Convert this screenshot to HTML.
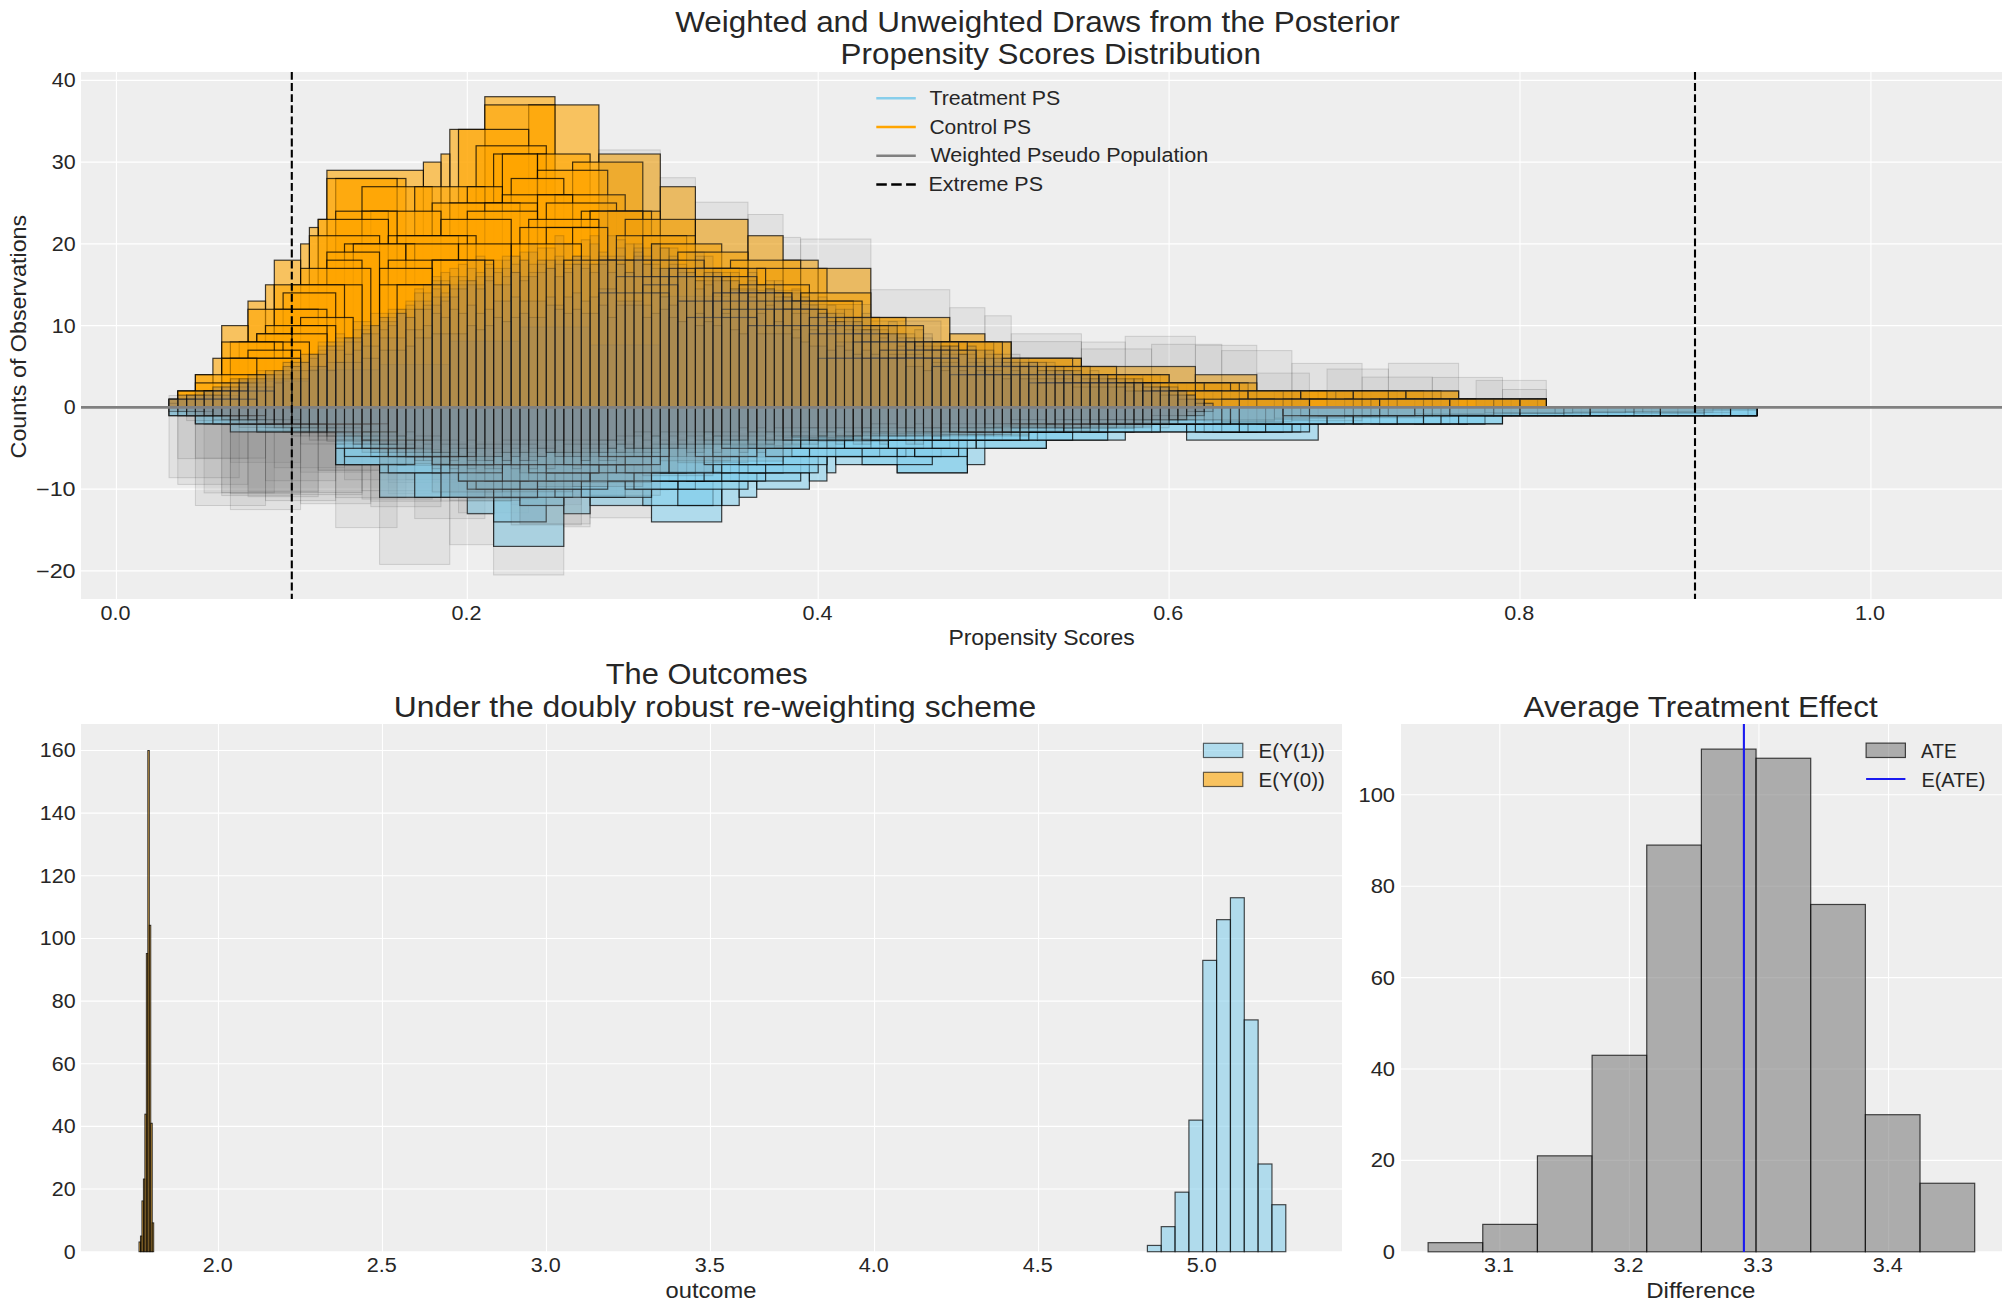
<!DOCTYPE html>
<html><head><meta charset="utf-8"><style>html,body{margin:0;padding:0;background:#fff;width:2011px;height:1311px;overflow:hidden}</style></head>
<body>
<svg width="2011" height="1311" viewBox="0 0 2011 1311" style="display:block;font-family:'Liberation Sans', sans-serif;fill:#262626">
<rect width="2011" height="1311" fill="#fff"/>
<rect x="81" y="72" width="1921" height="527" fill="#eeeeee"/>
<line x1="116.40" y1="72" x2="116.40" y2="599" stroke="#fff" stroke-width="1.1"/>
<line x1="467.30" y1="72" x2="467.30" y2="599" stroke="#fff" stroke-width="1.1"/>
<line x1="818.20" y1="72" x2="818.20" y2="599" stroke="#fff" stroke-width="1.1"/>
<line x1="1169.10" y1="72" x2="1169.10" y2="599" stroke="#fff" stroke-width="1.1"/>
<line x1="1520.00" y1="72" x2="1520.00" y2="599" stroke="#fff" stroke-width="1.1"/>
<line x1="1870.90" y1="72" x2="1870.90" y2="599" stroke="#fff" stroke-width="1.1"/>
<line x1="81" y1="570.90" x2="2002" y2="570.90" stroke="#fff" stroke-width="1.1"/>
<line x1="81" y1="489.15" x2="2002" y2="489.15" stroke="#fff" stroke-width="1.1"/>
<line x1="81" y1="407.40" x2="2002" y2="407.40" stroke="#fff" stroke-width="1.1"/>
<line x1="81" y1="325.65" x2="2002" y2="325.65" stroke="#fff" stroke-width="1.1"/>
<line x1="81" y1="243.90" x2="2002" y2="243.90" stroke="#fff" stroke-width="1.1"/>
<line x1="81" y1="162.15" x2="2002" y2="162.15" stroke="#fff" stroke-width="1.1"/>
<line x1="81" y1="80.40" x2="2002" y2="80.40" stroke="#fff" stroke-width="1.1"/>
<g fill="#808080" fill-opacity="0.11" stroke="#000" stroke-opacity="0.13" stroke-width="1.0"><rect x="230.4" y="407.4" width="70.2" height="86.4"/><rect x="300.6" y="407.4" width="70.2" height="96.3"/><rect x="370.8" y="407.4" width="70.2" height="99.3"/><rect x="441.0" y="407.4" width="70.2" height="87.0"/><rect x="511.2" y="407.4" width="70.2" height="97.2"/><rect x="581.3" y="407.4" width="70.2" height="59.4"/><rect x="651.5" y="407.4" width="70.2" height="61.2"/><rect x="721.7" y="407.4" width="70.2" height="35.5"/><rect x="791.9" y="407.4" width="70.2" height="25.3"/><rect x="862.1" y="407.4" width="70.2" height="16.0"/><rect x="932.2" y="407.4" width="70.2" height="13.7"/><rect x="1002.4" y="407.4" width="70.2" height="7.5"/><rect x="1072.6" y="407.4" width="70.2" height="4.4"/><rect x="221.7" y="407.4" width="70.2" height="88.2"/><rect x="291.9" y="407.4" width="70.2" height="87.2"/><rect x="362.0" y="407.4" width="70.2" height="91.7"/><rect x="432.2" y="407.4" width="70.2" height="74.5"/><rect x="502.4" y="407.4" width="70.2" height="63.2"/><rect x="572.6" y="407.4" width="70.2" height="73.0"/><rect x="642.8" y="407.4" width="70.2" height="43.3"/><rect x="712.9" y="407.4" width="70.2" height="31.8"/><rect x="783.1" y="407.4" width="70.2" height="21.4"/><rect x="853.3" y="407.4" width="70.2" height="15.0"/><rect x="923.5" y="407.4" width="70.2" height="14.4"/><rect x="993.6" y="407.4" width="70.2" height="9.5"/><rect x="1063.8" y="407.4" width="70.2" height="5.7"/><rect x="230.4" y="407.4" width="70.2" height="55.0"/><rect x="300.6" y="407.4" width="70.2" height="64.8"/><rect x="370.8" y="407.4" width="70.2" height="93.8"/><rect x="441.0" y="407.4" width="70.2" height="85.0"/><rect x="511.2" y="407.4" width="70.2" height="84.7"/><rect x="581.3" y="407.4" width="70.2" height="85.5"/><rect x="651.5" y="407.4" width="70.2" height="42.1"/><rect x="721.7" y="407.4" width="70.2" height="31.5"/><rect x="791.9" y="407.4" width="70.2" height="27.0"/><rect x="862.1" y="407.4" width="70.2" height="19.1"/><rect x="932.2" y="407.4" width="70.2" height="10.8"/><rect x="1002.4" y="407.4" width="70.2" height="9.5"/><rect x="1072.6" y="407.4" width="70.2" height="3.5"/><rect x="177.8" y="407.4" width="70.2" height="77.0"/><rect x="248.0" y="407.4" width="70.2" height="89.3"/><rect x="318.2" y="407.4" width="70.2" height="62.6"/><rect x="388.3" y="407.4" width="70.2" height="75.1"/><rect x="458.5" y="407.4" width="70.2" height="105.4"/><rect x="528.7" y="407.4" width="70.2" height="78.9"/><rect x="598.9" y="407.4" width="70.2" height="83.1"/><rect x="669.1" y="407.4" width="70.2" height="45.8"/><rect x="739.2" y="407.4" width="70.2" height="25.7"/><rect x="809.4" y="407.4" width="70.2" height="24.2"/><rect x="879.6" y="407.4" width="70.2" height="20.3"/><rect x="949.8" y="407.4" width="70.2" height="11.4"/><rect x="1020.0" y="407.4" width="70.2" height="6.3"/><rect x="1090.1" y="407.4" width="70.2" height="2.8"/><rect x="177.8" y="407.4" width="70.2" height="51.2"/><rect x="248.0" y="407.4" width="70.2" height="84.0"/><rect x="318.2" y="407.4" width="70.2" height="63.0"/><rect x="388.3" y="407.4" width="70.2" height="86.3"/><rect x="458.5" y="407.4" width="70.2" height="86.9"/><rect x="528.7" y="407.4" width="70.2" height="87.4"/><rect x="598.9" y="407.4" width="70.2" height="56.6"/><rect x="669.1" y="407.4" width="70.2" height="48.4"/><rect x="739.2" y="407.4" width="70.2" height="40.6"/><rect x="809.4" y="407.4" width="70.2" height="25.7"/><rect x="879.6" y="407.4" width="70.2" height="17.1"/><rect x="949.8" y="407.4" width="70.2" height="12.1"/><rect x="1020.0" y="407.4" width="70.2" height="7.6"/><rect x="1090.1" y="407.4" width="70.2" height="3.8"/><rect x="204.1" y="407.4" width="70.2" height="85.5"/><rect x="274.3" y="407.4" width="70.2" height="60.3"/><rect x="344.5" y="407.4" width="70.2" height="72.4"/><rect x="414.7" y="407.4" width="70.2" height="111.2"/><rect x="484.8" y="407.4" width="70.2" height="89.4"/><rect x="555.0" y="407.4" width="70.2" height="78.1"/><rect x="625.2" y="407.4" width="70.2" height="46.6"/><rect x="695.4" y="407.4" width="70.2" height="33.6"/><rect x="765.6" y="407.4" width="70.2" height="27.0"/><rect x="835.7" y="407.4" width="70.2" height="15.7"/><rect x="905.9" y="407.4" width="70.2" height="16.8"/><rect x="976.1" y="407.4" width="70.2" height="12.9"/><rect x="1046.3" y="407.4" width="70.2" height="5.8"/><rect x="1116.5" y="407.4" width="70.2" height="1.0"/><rect x="195.4" y="407.4" width="70.2" height="50.7"/><rect x="265.5" y="407.4" width="70.2" height="73.3"/><rect x="335.7" y="407.4" width="70.2" height="90.2"/><rect x="405.9" y="407.4" width="70.2" height="72.2"/><rect x="476.1" y="407.4" width="70.2" height="89.6"/><rect x="546.3" y="407.4" width="70.2" height="89.6"/><rect x="616.4" y="407.4" width="70.2" height="51.5"/><rect x="686.6" y="407.4" width="70.2" height="40.9"/><rect x="756.8" y="407.4" width="70.2" height="31.3"/><rect x="827.0" y="407.4" width="70.2" height="19.4"/><rect x="897.2" y="407.4" width="70.2" height="14.3"/><rect x="967.3" y="407.4" width="70.2" height="12.3"/><rect x="1037.5" y="407.4" width="70.2" height="7.5"/><rect x="1107.7" y="407.4" width="70.2" height="1.5"/><rect x="221.7" y="407.4" width="70.2" height="85.2"/><rect x="291.9" y="407.4" width="70.2" height="85.1"/><rect x="362.0" y="407.4" width="70.2" height="83.3"/><rect x="432.2" y="407.4" width="70.2" height="72.1"/><rect x="502.4" y="407.4" width="70.2" height="64.2"/><rect x="572.6" y="407.4" width="70.2" height="88.6"/><rect x="642.8" y="407.4" width="70.2" height="48.3"/><rect x="712.9" y="407.4" width="70.2" height="41.5"/><rect x="783.1" y="407.4" width="70.2" height="21.5"/><rect x="853.3" y="407.4" width="70.2" height="22.8"/><rect x="923.5" y="407.4" width="70.2" height="15.4"/><rect x="993.6" y="407.4" width="70.2" height="8.8"/><rect x="1063.8" y="407.4" width="70.2" height="4.1"/></g>
<g fill="#ffa500" fill-opacity="0.6" stroke="#000" stroke-opacity="0.75" stroke-width="1.2"><rect x="484.8" y="96.7" width="70.2" height="310.7"/><rect x="528.7" y="104.9" width="70.2" height="302.5"/><rect x="484.8" y="104.9" width="70.2" height="302.5"/><rect x="449.8" y="129.4" width="35.1" height="278.0"/><rect x="458.5" y="129.4" width="70.2" height="278.0"/><rect x="476.1" y="145.8" width="70.2" height="261.6"/><rect x="441.0" y="154.0" width="8.8" height="253.4"/><rect x="598.9" y="154.0" width="61.4" height="253.4"/><rect x="493.6" y="154.0" width="52.6" height="253.4"/><rect x="502.4" y="154.0" width="35.1" height="253.4"/><rect x="537.5" y="154.0" width="52.6" height="253.4"/><rect x="423.4" y="162.1" width="17.5" height="245.3"/><rect x="572.6" y="162.1" width="70.2" height="245.3"/><rect x="326.9" y="170.3" width="96.5" height="237.1"/><rect x="537.5" y="170.3" width="70.2" height="237.1"/><rect x="335.7" y="178.5" width="70.2" height="228.9"/><rect x="326.9" y="178.5" width="70.2" height="228.9"/><rect x="511.2" y="178.5" width="52.6" height="228.9"/><rect x="660.3" y="186.7" width="35.1" height="220.7"/><rect x="362.0" y="186.7" width="70.2" height="220.7"/><rect x="414.7" y="186.7" width="70.2" height="220.7"/><rect x="467.3" y="186.7" width="35.1" height="220.7"/><rect x="502.4" y="194.8" width="70.2" height="212.6"/><rect x="555.0" y="194.8" width="70.2" height="212.6"/><rect x="537.5" y="194.8" width="35.1" height="212.6"/><rect x="449.8" y="203.0" width="70.2" height="204.4"/><rect x="546.3" y="203.0" width="70.2" height="204.4"/><rect x="432.2" y="203.0" width="70.2" height="204.4"/><rect x="484.8" y="203.0" width="52.6" height="204.4"/><rect x="590.1" y="211.2" width="70.2" height="196.2"/><rect x="370.8" y="211.2" width="70.2" height="196.2"/><rect x="581.3" y="211.2" width="70.2" height="196.2"/><rect x="467.3" y="211.2" width="70.2" height="196.2"/><rect x="335.7" y="211.2" width="52.6" height="196.2"/><rect x="362.0" y="211.2" width="35.1" height="196.2"/><rect x="607.7" y="211.2" width="35.1" height="196.2"/><rect x="590.1" y="211.2" width="52.6" height="196.2"/><rect x="318.2" y="219.4" width="8.8" height="188.0"/><rect x="695.4" y="219.4" width="52.6" height="188.0"/><rect x="318.2" y="219.4" width="70.2" height="188.0"/><rect x="528.7" y="219.4" width="70.2" height="188.0"/><rect x="625.2" y="219.4" width="70.2" height="188.0"/><rect x="441.0" y="219.4" width="70.2" height="188.0"/><rect x="309.4" y="227.5" width="8.8" height="179.9"/><rect x="519.9" y="227.5" width="70.2" height="179.9"/><rect x="546.3" y="227.5" width="52.6" height="179.9"/><rect x="572.6" y="227.5" width="35.1" height="179.9"/><rect x="748.0" y="235.7" width="35.1" height="171.7"/><rect x="309.4" y="235.7" width="70.2" height="171.7"/><rect x="405.9" y="235.7" width="70.2" height="171.7"/><rect x="616.4" y="235.7" width="70.2" height="171.7"/><rect x="388.3" y="235.7" width="70.2" height="171.7"/><rect x="397.1" y="235.7" width="70.2" height="171.7"/><rect x="642.8" y="235.7" width="52.6" height="171.7"/><rect x="300.6" y="243.9" width="8.8" height="163.5"/><rect x="344.5" y="243.9" width="70.2" height="163.5"/><rect x="511.2" y="243.9" width="70.2" height="163.5"/><rect x="651.5" y="243.9" width="70.2" height="163.5"/><rect x="353.3" y="243.9" width="52.6" height="163.5"/><rect x="405.9" y="243.9" width="52.6" height="163.5"/><rect x="458.5" y="243.9" width="52.6" height="163.5"/><rect x="677.8" y="252.1" width="70.2" height="155.3"/><rect x="326.9" y="252.1" width="52.6" height="155.3"/><rect x="274.3" y="260.2" width="26.3" height="147.1"/><rect x="783.1" y="260.2" width="35.1" height="147.1"/><rect x="730.5" y="260.2" width="70.2" height="147.1"/><rect x="607.7" y="260.2" width="70.2" height="147.1"/><rect x="388.3" y="260.2" width="52.6" height="147.1"/><rect x="441.0" y="260.2" width="52.6" height="147.1"/><rect x="598.9" y="260.2" width="52.6" height="147.1"/><rect x="651.5" y="260.2" width="52.6" height="147.1"/><rect x="326.9" y="260.2" width="35.1" height="147.1"/><rect x="432.2" y="260.2" width="35.1" height="147.1"/><rect x="432.2" y="260.2" width="52.6" height="147.1"/><rect x="563.8" y="260.2" width="52.6" height="147.1"/><rect x="818.2" y="268.4" width="52.6" height="139.0"/><rect x="756.8" y="268.4" width="70.2" height="139.0"/><rect x="669.1" y="268.4" width="70.2" height="139.0"/><rect x="695.4" y="268.4" width="70.2" height="139.0"/><rect x="300.6" y="268.4" width="70.2" height="139.0"/><rect x="379.6" y="268.4" width="52.6" height="139.0"/><rect x="695.4" y="268.4" width="52.6" height="139.0"/><rect x="660.3" y="276.6" width="70.2" height="130.8"/><rect x="642.8" y="276.6" width="70.2" height="130.8"/><rect x="704.2" y="276.6" width="52.6" height="130.8"/><rect x="616.4" y="276.6" width="52.6" height="130.8"/><rect x="669.1" y="276.6" width="52.6" height="130.8"/><rect x="265.5" y="284.8" width="8.8" height="122.6"/><rect x="379.6" y="284.8" width="70.2" height="122.6"/><rect x="291.9" y="284.8" width="70.2" height="122.6"/><rect x="739.2" y="284.8" width="70.2" height="122.6"/><rect x="274.3" y="284.8" width="70.2" height="122.6"/><rect x="397.1" y="284.8" width="35.1" height="122.6"/><rect x="642.8" y="284.8" width="35.1" height="122.6"/><rect x="800.7" y="292.9" width="70.2" height="114.5"/><rect x="712.9" y="292.9" width="70.2" height="114.5"/><rect x="598.9" y="292.9" width="70.2" height="114.5"/><rect x="721.7" y="292.9" width="70.2" height="114.5"/><rect x="283.1" y="292.9" width="52.6" height="114.5"/><rect x="748.0" y="292.9" width="35.1" height="114.5"/><rect x="248.0" y="301.1" width="17.5" height="106.3"/><rect x="783.1" y="301.1" width="70.2" height="106.3"/><rect x="791.9" y="301.1" width="70.2" height="106.3"/><rect x="677.8" y="301.1" width="35.1" height="106.3"/><rect x="712.9" y="301.1" width="35.1" height="106.3"/><rect x="748.0" y="301.1" width="52.6" height="106.3"/><rect x="248.0" y="309.3" width="70.2" height="98.1"/><rect x="756.8" y="309.3" width="52.6" height="98.1"/><rect x="783.1" y="309.3" width="35.1" height="98.1"/><rect x="274.3" y="309.3" width="52.6" height="98.1"/><rect x="721.7" y="309.3" width="52.6" height="98.1"/><rect x="774.3" y="309.3" width="52.6" height="98.1"/><rect x="870.8" y="317.5" width="79.0" height="89.9"/><rect x="686.6" y="317.5" width="70.2" height="89.9"/><rect x="809.4" y="317.5" width="70.2" height="89.9"/><rect x="835.7" y="317.5" width="70.2" height="89.9"/><rect x="300.6" y="317.5" width="52.6" height="89.9"/><rect x="221.7" y="325.6" width="26.3" height="81.8"/><rect x="265.5" y="325.6" width="70.2" height="81.8"/><rect x="827.0" y="325.6" width="70.2" height="81.8"/><rect x="853.3" y="325.6" width="70.2" height="81.8"/><rect x="765.6" y="325.6" width="70.2" height="81.8"/><rect x="748.0" y="325.6" width="70.2" height="81.8"/><rect x="291.9" y="325.6" width="35.1" height="81.8"/><rect x="818.2" y="325.6" width="35.1" height="81.8"/><rect x="800.7" y="325.6" width="52.6" height="81.8"/><rect x="949.8" y="333.8" width="35.1" height="73.6"/><rect x="256.8" y="333.8" width="70.2" height="73.6"/><rect x="809.4" y="333.8" width="52.6" height="73.6"/><rect x="256.8" y="333.8" width="35.1" height="73.6"/><rect x="853.3" y="333.8" width="35.1" height="73.6"/><rect x="984.9" y="342.0" width="26.3" height="65.4"/><rect x="239.2" y="342.0" width="70.2" height="65.4"/><rect x="941.0" y="342.0" width="70.2" height="65.4"/><rect x="897.2" y="342.0" width="70.2" height="65.4"/><rect x="923.5" y="342.0" width="70.2" height="65.4"/><rect x="862.1" y="342.0" width="70.2" height="65.4"/><rect x="932.2" y="342.0" width="70.2" height="65.4"/><rect x="230.4" y="342.0" width="52.6" height="65.4"/><rect x="862.1" y="342.0" width="52.6" height="65.4"/><rect x="914.7" y="342.0" width="52.6" height="65.4"/><rect x="923.5" y="342.0" width="35.1" height="65.4"/><rect x="221.7" y="342.0" width="52.6" height="65.4"/><rect x="853.3" y="342.0" width="52.6" height="65.4"/><rect x="879.6" y="350.2" width="70.2" height="57.2"/><rect x="905.9" y="350.2" width="70.2" height="57.2"/><rect x="248.0" y="350.2" width="52.6" height="57.2"/><rect x="212.9" y="358.3" width="8.8" height="49.1"/><rect x="1011.2" y="358.3" width="70.2" height="49.1"/><rect x="870.8" y="358.3" width="70.2" height="49.1"/><rect x="1011.2" y="358.3" width="70.2" height="49.1"/><rect x="221.7" y="358.3" width="70.2" height="49.1"/><rect x="230.4" y="358.3" width="70.2" height="49.1"/><rect x="1002.4" y="358.3" width="70.2" height="49.1"/><rect x="818.2" y="358.3" width="70.2" height="49.1"/><rect x="888.4" y="358.3" width="70.2" height="49.1"/><rect x="221.7" y="358.3" width="35.1" height="49.1"/><rect x="888.4" y="358.3" width="35.1" height="49.1"/><rect x="905.9" y="358.3" width="52.6" height="49.1"/><rect x="827.0" y="358.3" width="52.6" height="49.1"/><rect x="879.6" y="358.3" width="52.6" height="49.1"/><rect x="1081.4" y="366.5" width="114.0" height="40.9"/><rect x="1020.0" y="366.5" width="70.2" height="40.9"/><rect x="1046.3" y="366.5" width="70.2" height="40.9"/><rect x="993.6" y="366.5" width="35.1" height="40.9"/><rect x="958.6" y="366.5" width="52.6" height="40.9"/><rect x="932.2" y="366.5" width="52.6" height="40.9"/><rect x="984.9" y="366.5" width="52.6" height="40.9"/><rect x="195.4" y="374.7" width="17.5" height="32.7"/><rect x="1195.4" y="374.7" width="61.4" height="32.7"/><rect x="1081.4" y="374.7" width="70.2" height="32.7"/><rect x="195.4" y="374.7" width="70.2" height="32.7"/><rect x="967.3" y="374.7" width="70.2" height="32.7"/><rect x="993.6" y="374.7" width="70.2" height="32.7"/><rect x="949.8" y="374.7" width="70.2" height="32.7"/><rect x="1090.1" y="374.7" width="70.2" height="32.7"/><rect x="976.1" y="374.7" width="70.2" height="32.7"/><rect x="1072.6" y="374.7" width="70.2" height="32.7"/><rect x="958.6" y="374.7" width="70.2" height="32.7"/><rect x="1028.7" y="374.7" width="70.2" height="32.7"/><rect x="1098.9" y="374.7" width="70.2" height="32.7"/><rect x="967.3" y="374.7" width="52.6" height="32.7"/><rect x="1020.0" y="374.7" width="52.6" height="32.7"/><rect x="958.6" y="374.7" width="35.1" height="32.7"/><rect x="1011.2" y="374.7" width="52.6" height="32.7"/><rect x="1116.5" y="374.7" width="52.6" height="32.7"/><rect x="1037.5" y="382.9" width="70.2" height="24.5"/><rect x="1107.7" y="382.9" width="70.2" height="24.5"/><rect x="1177.9" y="382.9" width="70.2" height="24.5"/><rect x="1063.8" y="382.9" width="70.2" height="24.5"/><rect x="1134.0" y="382.9" width="70.2" height="24.5"/><rect x="1160.3" y="382.9" width="70.2" height="24.5"/><rect x="1116.5" y="382.9" width="70.2" height="24.5"/><rect x="1186.6" y="382.9" width="70.2" height="24.5"/><rect x="1169.1" y="382.9" width="70.2" height="24.5"/><rect x="1072.6" y="382.9" width="52.6" height="24.5"/><rect x="1125.2" y="382.9" width="52.6" height="24.5"/><rect x="1177.9" y="382.9" width="52.6" height="24.5"/><rect x="1028.7" y="382.9" width="35.1" height="24.5"/><rect x="1063.8" y="382.9" width="35.1" height="24.5"/><rect x="1098.9" y="382.9" width="35.1" height="24.5"/><rect x="1134.0" y="382.9" width="35.1" height="24.5"/><rect x="1169.1" y="382.9" width="35.1" height="24.5"/><rect x="1063.8" y="382.9" width="52.6" height="24.5"/><rect x="195.4" y="382.9" width="52.6" height="24.5"/><rect x="1037.5" y="382.9" width="52.6" height="24.5"/><rect x="1090.1" y="382.9" width="52.6" height="24.5"/><rect x="1142.8" y="382.9" width="52.6" height="24.5"/><rect x="177.8" y="391.0" width="17.5" height="16.4"/><rect x="1256.8" y="391.0" width="201.8" height="16.4"/><rect x="1151.6" y="391.0" width="70.2" height="16.4"/><rect x="1248.1" y="391.0" width="70.2" height="16.4"/><rect x="1318.2" y="391.0" width="70.2" height="16.4"/><rect x="1274.4" y="391.0" width="70.2" height="16.4"/><rect x="177.8" y="391.0" width="70.2" height="16.4"/><rect x="1230.5" y="391.0" width="70.2" height="16.4"/><rect x="1300.7" y="391.0" width="70.2" height="16.4"/><rect x="204.1" y="391.0" width="70.2" height="16.4"/><rect x="1327.0" y="391.0" width="70.2" height="16.4"/><rect x="1142.8" y="391.0" width="70.2" height="16.4"/><rect x="1213.0" y="391.0" width="70.2" height="16.4"/><rect x="1353.3" y="391.0" width="70.2" height="16.4"/><rect x="177.8" y="391.0" width="52.6" height="16.4"/><rect x="1335.8" y="391.0" width="52.6" height="16.4"/><rect x="1388.4" y="391.0" width="52.6" height="16.4"/><rect x="1204.2" y="391.0" width="35.1" height="16.4"/><rect x="1169.1" y="391.0" width="52.6" height="16.4"/><rect x="1195.4" y="391.0" width="52.6" height="16.4"/><rect x="1248.1" y="391.0" width="52.6" height="16.4"/><rect x="1300.7" y="391.0" width="52.6" height="16.4"/><rect x="1353.3" y="391.0" width="52.6" height="16.4"/><rect x="1406.0" y="391.0" width="52.6" height="16.4"/><rect x="169.0" y="399.2" width="8.8" height="8.2"/><rect x="1458.6" y="399.2" width="87.7" height="8.2"/><rect x="169.0" y="399.2" width="70.2" height="8.2"/><rect x="1221.7" y="399.2" width="70.2" height="8.2"/><rect x="1291.9" y="399.2" width="70.2" height="8.2"/><rect x="1362.1" y="399.2" width="70.2" height="8.2"/><rect x="1432.3" y="399.2" width="70.2" height="8.2"/><rect x="1502.5" y="399.2" width="43.9" height="8.2"/><rect x="1388.4" y="399.2" width="70.2" height="8.2"/><rect x="1458.6" y="399.2" width="70.2" height="8.2"/><rect x="1528.8" y="399.2" width="17.5" height="8.2"/><rect x="1204.2" y="399.2" width="70.2" height="8.2"/><rect x="1344.6" y="399.2" width="70.2" height="8.2"/><rect x="1414.7" y="399.2" width="70.2" height="8.2"/><rect x="1484.9" y="399.2" width="61.4" height="8.2"/><rect x="1370.9" y="399.2" width="70.2" height="8.2"/><rect x="1441.0" y="399.2" width="70.2" height="8.2"/><rect x="1511.2" y="399.2" width="35.1" height="8.2"/><rect x="1256.8" y="399.2" width="70.2" height="8.2"/><rect x="1397.2" y="399.2" width="70.2" height="8.2"/><rect x="1467.4" y="399.2" width="70.2" height="8.2"/><rect x="1537.5" y="399.2" width="8.8" height="8.2"/><rect x="1283.1" y="399.2" width="70.2" height="8.2"/><rect x="1423.5" y="399.2" width="70.2" height="8.2"/><rect x="1493.7" y="399.2" width="52.6" height="8.2"/><rect x="186.6" y="399.2" width="70.2" height="8.2"/><rect x="1239.3" y="399.2" width="70.2" height="8.2"/><rect x="1309.5" y="399.2" width="70.2" height="8.2"/><rect x="1379.6" y="399.2" width="70.2" height="8.2"/><rect x="1449.8" y="399.2" width="70.2" height="8.2"/><rect x="1520.0" y="399.2" width="26.3" height="8.2"/></g>
<g fill="#87ceeb" fill-opacity="0.6" stroke="#000" stroke-opacity="0.75" stroke-width="1.2"><rect x="493.6" y="407.4" width="70.2" height="139.0"/><rect x="651.5" y="407.4" width="70.2" height="114.5"/><rect x="493.6" y="407.4" width="52.6" height="114.5"/><rect x="467.3" y="407.4" width="26.3" height="106.3"/><rect x="563.8" y="407.4" width="26.3" height="106.3"/><rect x="590.1" y="407.4" width="61.4" height="98.1"/><rect x="721.7" y="407.4" width="17.5" height="98.1"/><rect x="642.8" y="407.4" width="70.2" height="98.1"/><rect x="677.8" y="407.4" width="43.9" height="98.1"/><rect x="519.9" y="407.4" width="43.9" height="98.1"/><rect x="379.6" y="407.4" width="87.7" height="89.9"/><rect x="739.2" y="407.4" width="17.5" height="89.9"/><rect x="502.4" y="407.4" width="70.2" height="89.9"/><rect x="414.7" y="407.4" width="70.2" height="89.9"/><rect x="555.0" y="407.4" width="70.2" height="89.9"/><rect x="441.0" y="407.4" width="70.2" height="89.9"/><rect x="581.3" y="407.4" width="70.2" height="89.9"/><rect x="493.6" y="407.4" width="43.9" height="89.9"/><rect x="756.8" y="407.4" width="52.6" height="81.8"/><rect x="625.2" y="407.4" width="70.2" height="81.8"/><rect x="467.3" y="407.4" width="70.2" height="81.8"/><rect x="537.5" y="407.4" width="70.2" height="81.8"/><rect x="677.8" y="407.4" width="70.2" height="81.8"/><rect x="502.4" y="407.4" width="43.9" height="81.8"/><rect x="634.0" y="407.4" width="43.9" height="81.8"/><rect x="476.1" y="407.4" width="43.9" height="81.8"/><rect x="537.5" y="407.4" width="43.9" height="81.8"/><rect x="809.4" y="407.4" width="17.5" height="73.6"/><rect x="519.9" y="407.4" width="70.2" height="73.6"/><rect x="730.5" y="407.4" width="70.2" height="73.6"/><rect x="686.6" y="407.4" width="70.2" height="73.6"/><rect x="458.5" y="407.4" width="70.2" height="73.6"/><rect x="669.1" y="407.4" width="70.2" height="73.6"/><rect x="484.8" y="407.4" width="70.2" height="73.6"/><rect x="695.4" y="407.4" width="70.2" height="73.6"/><rect x="651.5" y="407.4" width="70.2" height="73.6"/><rect x="607.7" y="407.4" width="70.2" height="73.6"/><rect x="458.5" y="407.4" width="43.9" height="73.6"/><rect x="546.3" y="407.4" width="43.9" height="73.6"/><rect x="590.1" y="407.4" width="43.9" height="73.6"/><rect x="651.5" y="407.4" width="52.6" height="73.6"/><rect x="827.0" y="407.4" width="8.8" height="65.4"/><rect x="897.2" y="407.4" width="70.2" height="65.4"/><rect x="379.6" y="407.4" width="70.2" height="65.4"/><rect x="660.3" y="407.4" width="70.2" height="65.4"/><rect x="546.3" y="407.4" width="70.2" height="65.4"/><rect x="616.4" y="407.4" width="70.2" height="65.4"/><rect x="897.2" y="407.4" width="70.2" height="65.4"/><rect x="432.2" y="407.4" width="70.2" height="65.4"/><rect x="712.9" y="407.4" width="70.2" height="65.4"/><rect x="528.7" y="407.4" width="70.2" height="65.4"/><rect x="739.2" y="407.4" width="70.2" height="65.4"/><rect x="748.0" y="407.4" width="70.2" height="65.4"/><rect x="721.7" y="407.4" width="43.9" height="65.4"/><rect x="388.3" y="407.4" width="52.6" height="65.4"/><rect x="546.3" y="407.4" width="52.6" height="65.4"/><rect x="651.5" y="407.4" width="43.9" height="65.4"/><rect x="625.2" y="407.4" width="43.9" height="65.4"/><rect x="669.1" y="407.4" width="43.9" height="65.4"/><rect x="335.7" y="407.4" width="43.9" height="57.2"/><rect x="835.7" y="407.4" width="61.4" height="57.2"/><rect x="967.3" y="407.4" width="17.5" height="57.2"/><rect x="449.8" y="407.4" width="70.2" height="57.2"/><rect x="590.1" y="407.4" width="70.2" height="57.2"/><rect x="335.7" y="407.4" width="70.2" height="57.2"/><rect x="476.1" y="407.4" width="70.2" height="57.2"/><rect x="756.8" y="407.4" width="70.2" height="57.2"/><rect x="572.6" y="407.4" width="70.2" height="57.2"/><rect x="344.5" y="407.4" width="70.2" height="57.2"/><rect x="511.2" y="407.4" width="70.2" height="57.2"/><rect x="862.1" y="407.4" width="70.2" height="57.2"/><rect x="441.0" y="407.4" width="52.6" height="57.2"/><rect x="598.9" y="407.4" width="52.6" height="57.2"/><rect x="704.2" y="407.4" width="52.6" height="57.2"/><rect x="432.2" y="407.4" width="43.9" height="57.2"/><rect x="563.8" y="407.4" width="43.9" height="57.2"/><rect x="739.2" y="407.4" width="43.9" height="57.2"/><rect x="449.8" y="407.4" width="43.9" height="57.2"/><rect x="581.3" y="407.4" width="43.9" height="57.2"/><rect x="405.9" y="407.4" width="70.2" height="49.1"/><rect x="827.0" y="407.4" width="70.2" height="49.1"/><rect x="388.3" y="407.4" width="70.2" height="49.1"/><rect x="598.9" y="407.4" width="70.2" height="49.1"/><rect x="809.4" y="407.4" width="70.2" height="49.1"/><rect x="835.7" y="407.4" width="70.2" height="49.1"/><rect x="370.8" y="407.4" width="70.2" height="49.1"/><rect x="791.9" y="407.4" width="70.2" height="49.1"/><rect x="397.1" y="407.4" width="70.2" height="49.1"/><rect x="414.7" y="407.4" width="43.9" height="49.1"/><rect x="765.6" y="407.4" width="43.9" height="49.1"/><rect x="897.2" y="407.4" width="43.9" height="49.1"/><rect x="914.7" y="407.4" width="52.6" height="49.1"/><rect x="344.5" y="407.4" width="43.9" height="49.1"/><rect x="388.3" y="407.4" width="43.9" height="49.1"/><rect x="607.7" y="407.4" width="43.9" height="49.1"/><rect x="695.4" y="407.4" width="43.9" height="49.1"/><rect x="914.7" y="407.4" width="43.9" height="49.1"/><rect x="405.9" y="407.4" width="43.9" height="49.1"/><rect x="712.9" y="407.4" width="43.9" height="49.1"/><rect x="984.9" y="407.4" width="61.4" height="40.9"/><rect x="800.7" y="407.4" width="70.2" height="40.9"/><rect x="853.3" y="407.4" width="70.2" height="40.9"/><rect x="879.6" y="407.4" width="70.2" height="40.9"/><rect x="765.6" y="407.4" width="70.2" height="40.9"/><rect x="976.1" y="407.4" width="70.2" height="40.9"/><rect x="721.7" y="407.4" width="70.2" height="40.9"/><rect x="818.2" y="407.4" width="70.2" height="40.9"/><rect x="888.4" y="407.4" width="70.2" height="40.9"/><rect x="370.8" y="407.4" width="43.9" height="40.9"/><rect x="335.7" y="407.4" width="52.6" height="40.9"/><rect x="756.8" y="407.4" width="52.6" height="40.9"/><rect x="809.4" y="407.4" width="52.6" height="40.9"/><rect x="783.1" y="407.4" width="43.9" height="40.9"/><rect x="827.0" y="407.4" width="43.9" height="40.9"/><rect x="362.0" y="407.4" width="43.9" height="40.9"/><rect x="756.8" y="407.4" width="43.9" height="40.9"/><rect x="800.7" y="407.4" width="43.9" height="40.9"/><rect x="844.5" y="407.4" width="43.9" height="40.9"/><rect x="932.2" y="407.4" width="43.9" height="40.9"/><rect x="1046.3" y="407.4" width="79.0" height="32.7"/><rect x="1186.6" y="407.4" width="131.6" height="32.7"/><rect x="870.8" y="407.4" width="70.2" height="32.7"/><rect x="941.0" y="407.4" width="70.2" height="32.7"/><rect x="967.3" y="407.4" width="70.2" height="32.7"/><rect x="1037.5" y="407.4" width="70.2" height="32.7"/><rect x="362.0" y="407.4" width="70.2" height="32.7"/><rect x="783.1" y="407.4" width="70.2" height="32.7"/><rect x="923.5" y="407.4" width="70.2" height="32.7"/><rect x="905.9" y="407.4" width="70.2" height="32.7"/><rect x="932.2" y="407.4" width="70.2" height="32.7"/><rect x="1002.4" y="407.4" width="70.2" height="32.7"/><rect x="809.4" y="407.4" width="43.9" height="32.7"/><rect x="853.3" y="407.4" width="43.9" height="32.7"/><rect x="941.0" y="407.4" width="43.9" height="32.7"/><rect x="984.9" y="407.4" width="43.9" height="32.7"/><rect x="862.1" y="407.4" width="52.6" height="32.7"/><rect x="870.8" y="407.4" width="43.9" height="32.7"/><rect x="888.4" y="407.4" width="43.9" height="32.7"/><rect x="976.1" y="407.4" width="43.9" height="32.7"/><rect x="230.4" y="407.4" width="105.3" height="24.5"/><rect x="1125.2" y="407.4" width="61.4" height="24.5"/><rect x="1081.4" y="407.4" width="70.2" height="24.5"/><rect x="1151.6" y="407.4" width="70.2" height="24.5"/><rect x="993.6" y="407.4" width="70.2" height="24.5"/><rect x="1063.8" y="407.4" width="70.2" height="24.5"/><rect x="949.8" y="407.4" width="70.2" height="24.5"/><rect x="1090.1" y="407.4" width="70.2" height="24.5"/><rect x="1230.5" y="407.4" width="70.2" height="24.5"/><rect x="1186.6" y="407.4" width="70.2" height="24.5"/><rect x="1213.0" y="407.4" width="70.2" height="24.5"/><rect x="256.8" y="407.4" width="70.2" height="24.5"/><rect x="326.9" y="407.4" width="70.2" height="24.5"/><rect x="958.6" y="407.4" width="70.2" height="24.5"/><rect x="1028.7" y="407.4" width="70.2" height="24.5"/><rect x="1239.3" y="407.4" width="70.2" height="24.5"/><rect x="1028.7" y="407.4" width="43.9" height="24.5"/><rect x="1204.2" y="407.4" width="43.9" height="24.5"/><rect x="1248.1" y="407.4" width="43.9" height="24.5"/><rect x="967.3" y="407.4" width="52.6" height="24.5"/><rect x="1020.0" y="407.4" width="52.6" height="24.5"/><rect x="958.6" y="407.4" width="43.9" height="24.5"/><rect x="1002.4" y="407.4" width="43.9" height="24.5"/><rect x="1221.7" y="407.4" width="43.9" height="24.5"/><rect x="1020.0" y="407.4" width="43.9" height="24.5"/><rect x="1063.8" y="407.4" width="43.9" height="24.5"/><rect x="1195.4" y="407.4" width="43.9" height="24.5"/><rect x="195.4" y="407.4" width="35.1" height="16.4"/><rect x="1318.2" y="407.4" width="184.2" height="16.4"/><rect x="239.2" y="407.4" width="70.2" height="16.4"/><rect x="309.4" y="407.4" width="70.2" height="16.4"/><rect x="1011.2" y="407.4" width="70.2" height="16.4"/><rect x="1221.7" y="407.4" width="70.2" height="16.4"/><rect x="1291.9" y="407.4" width="70.2" height="16.4"/><rect x="265.5" y="407.4" width="70.2" height="16.4"/><rect x="1107.7" y="407.4" width="70.2" height="16.4"/><rect x="1177.9" y="407.4" width="70.2" height="16.4"/><rect x="1248.1" y="407.4" width="70.2" height="16.4"/><rect x="221.7" y="407.4" width="70.2" height="16.4"/><rect x="291.9" y="407.4" width="70.2" height="16.4"/><rect x="1134.0" y="407.4" width="70.2" height="16.4"/><rect x="1204.2" y="407.4" width="70.2" height="16.4"/><rect x="1274.4" y="407.4" width="70.2" height="16.4"/><rect x="1414.7" y="407.4" width="70.2" height="16.4"/><rect x="248.0" y="407.4" width="70.2" height="16.4"/><rect x="318.2" y="407.4" width="70.2" height="16.4"/><rect x="1020.0" y="407.4" width="70.2" height="16.4"/><rect x="1160.3" y="407.4" width="70.2" height="16.4"/><rect x="1370.9" y="407.4" width="70.2" height="16.4"/><rect x="204.1" y="407.4" width="70.2" height="16.4"/><rect x="274.3" y="407.4" width="70.2" height="16.4"/><rect x="1046.3" y="407.4" width="70.2" height="16.4"/><rect x="1116.5" y="407.4" width="70.2" height="16.4"/><rect x="1256.8" y="407.4" width="70.2" height="16.4"/><rect x="1327.0" y="407.4" width="70.2" height="16.4"/><rect x="1397.2" y="407.4" width="70.2" height="16.4"/><rect x="230.4" y="407.4" width="70.2" height="16.4"/><rect x="300.6" y="407.4" width="70.2" height="16.4"/><rect x="1072.6" y="407.4" width="70.2" height="16.4"/><rect x="1142.8" y="407.4" width="70.2" height="16.4"/><rect x="1353.3" y="407.4" width="70.2" height="16.4"/><rect x="1098.9" y="407.4" width="70.2" height="16.4"/><rect x="1169.1" y="407.4" width="70.2" height="16.4"/><rect x="1379.6" y="407.4" width="70.2" height="16.4"/><rect x="195.4" y="407.4" width="43.9" height="16.4"/><rect x="239.2" y="407.4" width="43.9" height="16.4"/><rect x="283.1" y="407.4" width="43.9" height="16.4"/><rect x="326.9" y="407.4" width="43.9" height="16.4"/><rect x="1072.6" y="407.4" width="43.9" height="16.4"/><rect x="1116.5" y="407.4" width="43.9" height="16.4"/><rect x="1160.3" y="407.4" width="43.9" height="16.4"/><rect x="1423.5" y="407.4" width="43.9" height="16.4"/><rect x="230.4" y="407.4" width="52.6" height="16.4"/><rect x="283.1" y="407.4" width="52.6" height="16.4"/><rect x="1072.6" y="407.4" width="52.6" height="16.4"/><rect x="1125.2" y="407.4" width="52.6" height="16.4"/><rect x="1177.9" y="407.4" width="52.6" height="16.4"/><rect x="1230.5" y="407.4" width="52.6" height="16.4"/><rect x="212.9" y="407.4" width="43.9" height="16.4"/><rect x="256.8" y="407.4" width="43.9" height="16.4"/><rect x="300.6" y="407.4" width="43.9" height="16.4"/><rect x="1046.3" y="407.4" width="43.9" height="16.4"/><rect x="1090.1" y="407.4" width="43.9" height="16.4"/><rect x="1134.0" y="407.4" width="43.9" height="16.4"/><rect x="1177.9" y="407.4" width="43.9" height="16.4"/><rect x="1265.6" y="407.4" width="43.9" height="16.4"/><rect x="1309.5" y="407.4" width="43.9" height="16.4"/><rect x="1353.3" y="407.4" width="43.9" height="16.4"/><rect x="1441.0" y="407.4" width="43.9" height="16.4"/><rect x="230.4" y="407.4" width="43.9" height="16.4"/><rect x="274.3" y="407.4" width="43.9" height="16.4"/><rect x="318.2" y="407.4" width="43.9" height="16.4"/><rect x="1107.7" y="407.4" width="43.9" height="16.4"/><rect x="1151.6" y="407.4" width="43.9" height="16.4"/><rect x="1239.3" y="407.4" width="43.9" height="16.4"/><rect x="1283.1" y="407.4" width="43.9" height="16.4"/><rect x="1458.6" y="407.4" width="43.9" height="16.4"/><rect x="169.0" y="407.4" width="26.3" height="8.2"/><rect x="1502.5" y="407.4" width="254.4" height="8.2"/><rect x="169.0" y="407.4" width="70.2" height="8.2"/><rect x="1362.1" y="407.4" width="70.2" height="8.2"/><rect x="1432.3" y="407.4" width="70.2" height="8.2"/><rect x="1502.5" y="407.4" width="70.2" height="8.2"/><rect x="1572.6" y="407.4" width="70.2" height="8.2"/><rect x="1642.8" y="407.4" width="70.2" height="8.2"/><rect x="1713.0" y="407.4" width="43.9" height="8.2"/><rect x="195.4" y="407.4" width="70.2" height="8.2"/><rect x="1318.2" y="407.4" width="70.2" height="8.2"/><rect x="1388.4" y="407.4" width="70.2" height="8.2"/><rect x="1458.6" y="407.4" width="70.2" height="8.2"/><rect x="1528.8" y="407.4" width="70.2" height="8.2"/><rect x="1599.0" y="407.4" width="70.2" height="8.2"/><rect x="1669.1" y="407.4" width="70.2" height="8.2"/><rect x="1739.3" y="407.4" width="17.5" height="8.2"/><rect x="1344.6" y="407.4" width="70.2" height="8.2"/><rect x="1484.9" y="407.4" width="70.2" height="8.2"/><rect x="1555.1" y="407.4" width="70.2" height="8.2"/><rect x="1625.3" y="407.4" width="70.2" height="8.2"/><rect x="1695.5" y="407.4" width="61.4" height="8.2"/><rect x="177.8" y="407.4" width="70.2" height="8.2"/><rect x="1300.7" y="407.4" width="70.2" height="8.2"/><rect x="1441.0" y="407.4" width="70.2" height="8.2"/><rect x="1511.2" y="407.4" width="70.2" height="8.2"/><rect x="1581.4" y="407.4" width="70.2" height="8.2"/><rect x="1651.6" y="407.4" width="70.2" height="8.2"/><rect x="1721.8" y="407.4" width="35.1" height="8.2"/><rect x="1467.4" y="407.4" width="70.2" height="8.2"/><rect x="1537.5" y="407.4" width="70.2" height="8.2"/><rect x="1607.7" y="407.4" width="70.2" height="8.2"/><rect x="1677.9" y="407.4" width="70.2" height="8.2"/><rect x="1748.1" y="407.4" width="8.8" height="8.2"/><rect x="1283.1" y="407.4" width="70.2" height="8.2"/><rect x="1423.5" y="407.4" width="70.2" height="8.2"/><rect x="1493.7" y="407.4" width="70.2" height="8.2"/><rect x="1563.9" y="407.4" width="70.2" height="8.2"/><rect x="1634.0" y="407.4" width="70.2" height="8.2"/><rect x="1704.2" y="407.4" width="52.6" height="8.2"/><rect x="186.6" y="407.4" width="70.2" height="8.2"/><rect x="1309.5" y="407.4" width="70.2" height="8.2"/><rect x="1449.8" y="407.4" width="70.2" height="8.2"/><rect x="1520.0" y="407.4" width="70.2" height="8.2"/><rect x="1590.2" y="407.4" width="70.2" height="8.2"/><rect x="1660.4" y="407.4" width="70.2" height="8.2"/><rect x="1730.5" y="407.4" width="26.3" height="8.2"/></g>
<g fill="#808080" fill-opacity="0.11" stroke="#000" stroke-opacity="0.13" stroke-width="1.0"><rect x="598.9" y="149.9" width="61.4" height="257.5"/><rect x="660.3" y="177.7" width="35.1" height="229.7"/><rect x="695.4" y="202.2" width="52.6" height="205.2"/><rect x="748.0" y="214.5" width="35.1" height="192.9"/><rect x="783.1" y="237.4" width="17.5" height="170.0"/><rect x="800.7" y="239.0" width="70.2" height="168.4"/><rect x="870.8" y="289.7" width="79.0" height="117.7"/><rect x="949.8" y="307.7" width="35.1" height="99.7"/><rect x="984.9" y="315.8" width="26.3" height="91.6"/><rect x="1011.2" y="333.8" width="70.2" height="73.6"/><rect x="1081.4" y="342.0" width="43.9" height="65.4"/><rect x="1125.2" y="336.3" width="70.2" height="71.1"/><rect x="1195.4" y="345.3" width="61.4" height="62.1"/><rect x="1256.8" y="373.1" width="52.6" height="34.3"/><rect x="1327.0" y="369.0" width="61.4" height="38.4"/><rect x="1388.4" y="363.3" width="70.2" height="44.1"/><rect x="1476.1" y="380.4" width="70.2" height="27.0"/><rect x="169.0" y="395.5" width="70.2" height="11.9"/><rect x="239.2" y="381.0" width="70.2" height="26.4"/><rect x="309.4" y="369.8" width="70.2" height="37.6"/><rect x="379.6" y="364.6" width="70.2" height="42.8"/><rect x="449.8" y="341.2" width="70.2" height="66.2"/><rect x="519.9" y="327.1" width="70.2" height="80.3"/><rect x="590.1" y="345.0" width="70.2" height="62.4"/><rect x="660.3" y="296.3" width="70.2" height="111.1"/><rect x="730.5" y="290.3" width="70.2" height="117.1"/><rect x="800.7" y="304.5" width="70.2" height="102.9"/><rect x="870.8" y="321.0" width="70.2" height="86.4"/><rect x="941.0" y="341.5" width="70.2" height="65.9"/><rect x="1011.2" y="341.6" width="70.2" height="65.8"/><rect x="1081.4" y="348.9" width="70.2" height="58.5"/><rect x="1151.6" y="344.3" width="70.2" height="63.1"/><rect x="1221.7" y="350.6" width="70.2" height="56.8"/><rect x="1291.9" y="363.4" width="70.2" height="44.0"/><rect x="1362.1" y="377.1" width="70.2" height="30.3"/><rect x="1432.3" y="377.4" width="70.2" height="30.0"/><rect x="1502.5" y="389.5" width="43.9" height="17.9"/></g>
<g fill="#808080" fill-opacity="0.11" stroke="#000" stroke-opacity="0.15" stroke-width="1.1"><rect x="555.0" y="235.7" width="8.8" height="171.7"/><rect x="590.1" y="235.7" width="8.8" height="171.7"/><rect x="607.7" y="235.7" width="8.8" height="171.7"/><rect x="581.3" y="239.8" width="8.8" height="167.6"/><rect x="616.4" y="239.8" width="8.8" height="167.6"/><rect x="528.7" y="243.9" width="8.8" height="163.5"/><rect x="625.2" y="243.9" width="8.8" height="163.5"/><rect x="651.5" y="243.9" width="8.8" height="163.5"/><rect x="563.8" y="243.9" width="8.8" height="163.5"/><rect x="590.1" y="243.9" width="8.8" height="163.5"/><rect x="634.0" y="243.9" width="8.8" height="163.5"/><rect x="651.5" y="243.9" width="8.8" height="163.5"/><rect x="546.3" y="248.0" width="8.8" height="159.4"/><rect x="634.0" y="248.0" width="8.8" height="159.4"/><rect x="642.8" y="248.0" width="8.8" height="159.4"/><rect x="660.3" y="248.0" width="8.8" height="159.4"/><rect x="537.5" y="248.0" width="8.8" height="159.4"/><rect x="616.4" y="248.0" width="8.8" height="159.4"/><rect x="660.3" y="248.0" width="8.8" height="159.4"/><rect x="669.1" y="248.0" width="8.8" height="159.4"/><rect x="634.0" y="252.1" width="8.8" height="155.3"/><rect x="519.9" y="252.1" width="8.8" height="155.3"/><rect x="686.6" y="252.1" width="8.8" height="155.3"/><rect x="695.4" y="252.1" width="8.8" height="155.3"/><rect x="528.7" y="252.1" width="8.8" height="155.3"/><rect x="598.9" y="252.1" width="8.8" height="155.3"/><rect x="598.9" y="256.2" width="8.8" height="151.2"/><rect x="616.4" y="256.2" width="8.8" height="151.2"/><rect x="634.0" y="256.2" width="8.8" height="151.2"/><rect x="669.1" y="256.2" width="8.8" height="151.2"/><rect x="502.4" y="256.2" width="8.8" height="151.2"/><rect x="511.2" y="256.2" width="8.8" height="151.2"/><rect x="572.6" y="256.2" width="8.8" height="151.2"/><rect x="704.2" y="256.2" width="8.8" height="151.2"/><rect x="572.6" y="256.2" width="8.8" height="151.2"/><rect x="581.3" y="256.2" width="8.8" height="151.2"/><rect x="607.7" y="256.2" width="8.8" height="151.2"/><rect x="476.1" y="256.2" width="8.8" height="151.2"/><rect x="511.2" y="256.2" width="8.8" height="151.2"/><rect x="555.0" y="256.2" width="8.8" height="151.2"/><rect x="572.6" y="256.2" width="8.8" height="151.2"/><rect x="642.8" y="256.2" width="8.8" height="151.2"/><rect x="695.4" y="256.2" width="8.8" height="151.2"/><rect x="519.9" y="260.2" width="8.8" height="147.1"/><rect x="537.5" y="260.2" width="8.8" height="147.1"/><rect x="555.0" y="260.2" width="8.8" height="147.1"/><rect x="598.9" y="260.2" width="8.8" height="147.1"/><rect x="607.7" y="260.2" width="8.8" height="147.1"/><rect x="625.2" y="260.2" width="8.8" height="147.1"/><rect x="467.3" y="260.2" width="8.8" height="147.1"/><rect x="493.6" y="260.2" width="8.8" height="147.1"/><rect x="537.5" y="260.2" width="8.8" height="147.1"/><rect x="563.8" y="260.2" width="8.8" height="147.1"/><rect x="598.9" y="260.2" width="8.8" height="147.1"/><rect x="607.7" y="260.2" width="8.8" height="147.1"/><rect x="546.3" y="260.2" width="8.8" height="147.1"/><rect x="634.0" y="260.2" width="8.8" height="147.1"/><rect x="484.8" y="260.2" width="8.8" height="147.1"/><rect x="502.4" y="260.2" width="8.8" height="147.1"/><rect x="519.9" y="260.2" width="8.8" height="147.1"/><rect x="546.3" y="260.2" width="8.8" height="147.1"/><rect x="581.3" y="260.2" width="8.8" height="147.1"/><rect x="625.2" y="260.2" width="8.8" height="147.1"/><rect x="528.7" y="264.3" width="8.8" height="143.1"/><rect x="572.6" y="264.3" width="8.8" height="143.1"/><rect x="581.3" y="264.3" width="8.8" height="143.1"/><rect x="590.1" y="264.3" width="8.8" height="143.1"/><rect x="642.8" y="264.3" width="8.8" height="143.1"/><rect x="669.1" y="264.3" width="8.8" height="143.1"/><rect x="677.8" y="264.3" width="8.8" height="143.1"/><rect x="572.6" y="264.3" width="8.8" height="143.1"/><rect x="590.1" y="264.3" width="8.8" height="143.1"/><rect x="616.4" y="264.3" width="8.8" height="143.1"/><rect x="642.8" y="264.3" width="8.8" height="143.1"/><rect x="651.5" y="264.3" width="8.8" height="143.1"/><rect x="458.5" y="264.3" width="8.8" height="143.1"/><rect x="484.8" y="264.3" width="8.8" height="143.1"/><rect x="511.2" y="264.3" width="8.8" height="143.1"/><rect x="537.5" y="264.3" width="8.8" height="143.1"/><rect x="555.0" y="264.3" width="8.8" height="143.1"/><rect x="563.8" y="264.3" width="8.8" height="143.1"/><rect x="598.9" y="264.3" width="8.8" height="143.1"/><rect x="616.4" y="264.3" width="8.8" height="143.1"/><rect x="546.3" y="268.4" width="8.8" height="139.0"/><rect x="651.5" y="268.4" width="8.8" height="139.0"/><rect x="660.3" y="268.4" width="8.8" height="139.0"/><rect x="484.8" y="268.4" width="8.8" height="139.0"/><rect x="502.4" y="268.4" width="8.8" height="139.0"/><rect x="546.3" y="268.4" width="8.8" height="139.0"/><rect x="563.8" y="268.4" width="8.8" height="139.0"/><rect x="581.3" y="268.4" width="8.8" height="139.0"/><rect x="660.3" y="268.4" width="8.8" height="139.0"/><rect x="686.6" y="268.4" width="8.8" height="139.0"/><rect x="449.8" y="268.4" width="8.8" height="139.0"/><rect x="669.1" y="268.4" width="8.8" height="139.0"/><rect x="677.8" y="268.4" width="8.8" height="139.0"/><rect x="712.9" y="268.4" width="8.8" height="139.0"/><rect x="660.3" y="268.4" width="8.8" height="139.0"/><rect x="677.8" y="268.4" width="8.8" height="139.0"/><rect x="467.3" y="268.4" width="8.8" height="139.0"/><rect x="493.6" y="268.4" width="8.8" height="139.0"/><rect x="677.8" y="268.4" width="8.8" height="139.0"/><rect x="748.0" y="268.4" width="8.8" height="139.0"/><rect x="511.2" y="272.5" width="8.8" height="134.9"/><rect x="537.5" y="272.5" width="8.8" height="134.9"/><rect x="563.8" y="272.5" width="8.8" height="134.9"/><rect x="607.7" y="272.5" width="8.8" height="134.9"/><rect x="625.2" y="272.5" width="8.8" height="134.9"/><rect x="476.1" y="272.5" width="8.8" height="134.9"/><rect x="493.6" y="272.5" width="8.8" height="134.9"/><rect x="511.2" y="272.5" width="8.8" height="134.9"/><rect x="677.8" y="272.5" width="8.8" height="134.9"/><rect x="712.9" y="272.5" width="8.8" height="134.9"/><rect x="441.0" y="272.5" width="8.8" height="134.9"/><rect x="721.7" y="272.5" width="8.8" height="134.9"/><rect x="730.5" y="272.5" width="8.8" height="134.9"/><rect x="748.0" y="272.5" width="8.8" height="134.9"/><rect x="528.7" y="272.5" width="8.8" height="134.9"/><rect x="590.1" y="272.5" width="8.8" height="134.9"/><rect x="625.2" y="272.5" width="8.8" height="134.9"/><rect x="686.6" y="272.5" width="8.8" height="134.9"/><rect x="704.2" y="272.5" width="8.8" height="134.9"/><rect x="686.6" y="272.5" width="8.8" height="134.9"/><rect x="704.2" y="272.5" width="8.8" height="134.9"/><rect x="712.9" y="272.5" width="8.8" height="134.9"/><rect x="484.8" y="276.6" width="8.8" height="130.8"/><rect x="519.9" y="276.6" width="8.8" height="130.8"/><rect x="555.0" y="276.6" width="8.8" height="130.8"/><rect x="686.6" y="276.6" width="8.8" height="130.8"/><rect x="712.9" y="276.6" width="8.8" height="130.8"/><rect x="721.7" y="276.6" width="8.8" height="130.8"/><rect x="528.7" y="276.6" width="8.8" height="130.8"/><rect x="721.7" y="276.6" width="8.8" height="130.8"/><rect x="432.2" y="276.6" width="8.8" height="130.8"/><rect x="476.1" y="276.6" width="8.8" height="130.8"/><rect x="458.5" y="276.6" width="8.8" height="130.8"/><rect x="502.4" y="276.6" width="8.8" height="130.8"/><rect x="642.8" y="276.6" width="8.8" height="130.8"/><rect x="651.5" y="276.6" width="8.8" height="130.8"/><rect x="669.1" y="276.6" width="8.8" height="130.8"/><rect x="449.8" y="276.6" width="8.8" height="130.8"/><rect x="739.2" y="276.6" width="8.8" height="130.8"/><rect x="730.5" y="280.7" width="8.8" height="126.7"/><rect x="467.3" y="280.7" width="8.8" height="126.7"/><rect x="695.4" y="280.7" width="8.8" height="126.7"/><rect x="704.2" y="280.7" width="8.8" height="126.7"/><rect x="748.0" y="280.7" width="8.8" height="126.7"/><rect x="765.6" y="280.7" width="8.8" height="126.7"/><rect x="467.3" y="280.7" width="8.8" height="126.7"/><rect x="484.8" y="280.7" width="8.8" height="126.7"/><rect x="519.9" y="280.7" width="8.8" height="126.7"/><rect x="695.4" y="280.7" width="8.8" height="126.7"/><rect x="712.9" y="280.7" width="8.8" height="126.7"/><rect x="721.7" y="280.7" width="8.8" height="126.7"/><rect x="432.2" y="280.7" width="8.8" height="126.7"/><rect x="441.0" y="280.7" width="8.8" height="126.7"/><rect x="458.5" y="280.7" width="8.8" height="126.7"/><rect x="721.7" y="280.7" width="8.8" height="126.7"/><rect x="730.5" y="280.7" width="8.8" height="126.7"/><rect x="774.3" y="280.7" width="8.8" height="126.7"/><rect x="449.8" y="284.8" width="8.8" height="122.6"/><rect x="467.3" y="284.8" width="8.8" height="122.6"/><rect x="493.6" y="284.8" width="8.8" height="122.6"/><rect x="502.4" y="284.8" width="8.8" height="122.6"/><rect x="704.2" y="284.8" width="8.8" height="122.6"/><rect x="458.5" y="284.8" width="8.8" height="122.6"/><rect x="423.4" y="284.8" width="8.8" height="122.6"/><rect x="739.2" y="284.8" width="8.8" height="122.6"/><rect x="756.8" y="284.8" width="8.8" height="122.6"/><rect x="774.3" y="284.8" width="8.8" height="122.6"/><rect x="476.1" y="284.8" width="8.8" height="122.6"/><rect x="493.6" y="284.8" width="8.8" height="122.6"/><rect x="756.8" y="284.8" width="8.8" height="122.6"/><rect x="458.5" y="288.9" width="8.8" height="118.5"/><rect x="476.1" y="288.9" width="8.8" height="118.5"/><rect x="695.4" y="288.9" width="8.8" height="118.5"/><rect x="748.0" y="288.9" width="8.8" height="118.5"/><rect x="432.2" y="288.9" width="8.8" height="118.5"/><rect x="730.5" y="288.9" width="8.8" height="118.5"/><rect x="765.6" y="288.9" width="8.8" height="118.5"/><rect x="791.9" y="288.9" width="8.8" height="118.5"/><rect x="449.8" y="288.9" width="8.8" height="118.5"/><rect x="730.5" y="288.9" width="8.8" height="118.5"/><rect x="739.2" y="288.9" width="8.8" height="118.5"/><rect x="765.6" y="288.9" width="8.8" height="118.5"/><rect x="598.9" y="288.9" width="8.8" height="118.5"/><rect x="607.7" y="288.9" width="8.8" height="118.5"/><rect x="414.7" y="288.9" width="8.8" height="118.5"/><rect x="765.6" y="288.9" width="8.8" height="118.5"/><rect x="739.2" y="292.9" width="8.8" height="114.5"/><rect x="783.1" y="292.9" width="8.8" height="114.5"/><rect x="441.0" y="292.9" width="8.8" height="114.5"/><rect x="739.2" y="292.9" width="8.8" height="114.5"/><rect x="756.8" y="292.9" width="8.8" height="114.5"/><rect x="414.7" y="292.9" width="8.8" height="114.5"/><rect x="783.1" y="292.9" width="8.8" height="114.5"/><rect x="756.8" y="292.9" width="8.8" height="114.5"/><rect x="774.3" y="292.9" width="8.8" height="114.5"/><rect x="572.6" y="292.9" width="8.8" height="114.5"/><rect x="651.5" y="292.9" width="8.8" height="114.5"/><rect x="423.4" y="292.9" width="8.8" height="114.5"/><rect x="791.9" y="292.9" width="8.8" height="114.5"/><rect x="800.7" y="292.9" width="8.8" height="114.5"/><rect x="809.4" y="292.9" width="8.8" height="114.5"/><rect x="432.2" y="297.0" width="8.8" height="110.4"/><rect x="449.8" y="297.0" width="8.8" height="110.4"/><rect x="774.3" y="297.0" width="8.8" height="110.4"/><rect x="783.1" y="297.0" width="8.8" height="110.4"/><rect x="800.7" y="297.0" width="8.8" height="110.4"/><rect x="800.7" y="297.0" width="8.8" height="110.4"/><rect x="818.2" y="297.0" width="8.8" height="110.4"/><rect x="441.0" y="297.0" width="8.8" height="110.4"/><rect x="748.0" y="297.0" width="8.8" height="110.4"/><rect x="511.2" y="297.0" width="8.8" height="110.4"/><rect x="546.3" y="297.0" width="8.8" height="110.4"/><rect x="563.8" y="297.0" width="8.8" height="110.4"/><rect x="590.1" y="297.0" width="8.8" height="110.4"/><rect x="660.3" y="297.0" width="8.8" height="110.4"/><rect x="783.1" y="297.0" width="8.8" height="110.4"/><rect x="423.4" y="301.1" width="8.8" height="106.3"/><rect x="441.0" y="301.1" width="8.8" height="106.3"/><rect x="756.8" y="301.1" width="8.8" height="106.3"/><rect x="774.3" y="301.1" width="8.8" height="106.3"/><rect x="791.9" y="301.1" width="8.8" height="106.3"/><rect x="800.7" y="301.1" width="8.8" height="106.3"/><rect x="414.7" y="301.1" width="8.8" height="106.3"/><rect x="791.9" y="301.1" width="8.8" height="106.3"/><rect x="809.4" y="301.1" width="8.8" height="106.3"/><rect x="493.6" y="301.1" width="8.8" height="106.3"/><rect x="502.4" y="301.1" width="8.8" height="106.3"/><rect x="519.9" y="301.1" width="8.8" height="106.3"/><rect x="528.7" y="301.1" width="8.8" height="106.3"/><rect x="537.5" y="301.1" width="8.8" height="106.3"/><rect x="581.3" y="301.1" width="8.8" height="106.3"/><rect x="616.4" y="301.1" width="8.8" height="106.3"/><rect x="625.2" y="301.1" width="8.8" height="106.3"/><rect x="634.0" y="301.1" width="8.8" height="106.3"/><rect x="677.8" y="301.1" width="8.8" height="106.3"/><rect x="686.6" y="301.1" width="8.8" height="106.3"/><rect x="704.2" y="301.1" width="8.8" height="106.3"/><rect x="712.9" y="301.1" width="8.8" height="106.3"/><rect x="405.9" y="301.1" width="8.8" height="106.3"/><rect x="765.6" y="305.2" width="8.8" height="102.2"/><rect x="423.4" y="305.2" width="8.8" height="102.2"/><rect x="405.9" y="305.2" width="8.8" height="102.2"/><rect x="809.4" y="305.2" width="8.8" height="102.2"/><rect x="546.3" y="305.2" width="8.8" height="102.2"/><rect x="598.9" y="305.2" width="8.8" height="102.2"/><rect x="616.4" y="305.2" width="8.8" height="102.2"/><rect x="625.2" y="305.2" width="8.8" height="102.2"/><rect x="634.0" y="305.2" width="8.8" height="102.2"/><rect x="432.2" y="305.2" width="8.8" height="102.2"/><rect x="467.3" y="305.2" width="8.8" height="102.2"/><rect x="555.0" y="305.2" width="8.8" height="102.2"/><rect x="642.8" y="305.2" width="8.8" height="102.2"/><rect x="669.1" y="305.2" width="8.8" height="102.2"/><rect x="827.0" y="305.2" width="8.8" height="102.2"/><rect x="397.1" y="309.3" width="8.8" height="98.1"/><rect x="414.7" y="309.3" width="8.8" height="98.1"/><rect x="405.9" y="309.3" width="8.8" height="98.1"/><rect x="397.1" y="309.3" width="8.8" height="98.1"/><rect x="555.0" y="309.3" width="8.8" height="98.1"/><rect x="572.6" y="309.3" width="8.8" height="98.1"/><rect x="660.3" y="309.3" width="8.8" height="98.1"/><rect x="414.7" y="309.3" width="8.8" height="98.1"/><rect x="423.4" y="309.3" width="8.8" height="98.1"/><rect x="783.1" y="309.3" width="8.8" height="98.1"/><rect x="809.4" y="309.3" width="8.8" height="98.1"/><rect x="449.8" y="309.3" width="8.8" height="98.1"/><rect x="484.8" y="309.3" width="8.8" height="98.1"/><rect x="730.5" y="309.3" width="8.8" height="98.1"/><rect x="739.2" y="309.3" width="8.8" height="98.1"/><rect x="388.3" y="309.3" width="8.8" height="98.1"/><rect x="818.2" y="309.3" width="8.8" height="98.1"/><rect x="835.7" y="309.3" width="8.8" height="98.1"/><rect x="844.5" y="309.3" width="8.8" height="98.1"/><rect x="388.3" y="313.4" width="8.8" height="94.0"/><rect x="818.2" y="313.4" width="8.8" height="94.0"/><rect x="397.1" y="313.4" width="8.8" height="94.0"/><rect x="818.2" y="313.4" width="8.8" height="94.0"/><rect x="827.0" y="313.4" width="8.8" height="94.0"/><rect x="370.8" y="313.4" width="8.8" height="94.0"/><rect x="379.6" y="313.4" width="8.8" height="94.0"/><rect x="827.0" y="313.4" width="8.8" height="94.0"/><rect x="835.7" y="313.4" width="8.8" height="94.0"/><rect x="862.1" y="313.4" width="8.8" height="94.0"/><rect x="519.9" y="313.4" width="8.8" height="94.0"/><rect x="563.8" y="313.4" width="8.8" height="94.0"/><rect x="581.3" y="313.4" width="8.8" height="94.0"/><rect x="590.1" y="313.4" width="8.8" height="94.0"/><rect x="651.5" y="313.4" width="8.8" height="94.0"/><rect x="397.1" y="313.4" width="8.8" height="94.0"/><rect x="791.9" y="313.4" width="8.8" height="94.0"/><rect x="800.7" y="313.4" width="8.8" height="94.0"/><rect x="818.2" y="313.4" width="8.8" height="94.0"/><rect x="432.2" y="313.4" width="8.8" height="94.0"/><rect x="458.5" y="313.4" width="8.8" height="94.0"/><rect x="476.1" y="313.4" width="8.8" height="94.0"/><rect x="695.4" y="313.4" width="8.8" height="94.0"/><rect x="721.7" y="313.4" width="8.8" height="94.0"/><rect x="756.8" y="313.4" width="8.8" height="94.0"/><rect x="397.1" y="313.4" width="8.8" height="94.0"/><rect x="405.9" y="317.5" width="8.8" height="89.9"/><rect x="809.4" y="317.5" width="8.8" height="89.9"/><rect x="379.6" y="317.5" width="8.8" height="89.9"/><rect x="844.5" y="317.5" width="8.8" height="89.9"/><rect x="388.3" y="317.5" width="8.8" height="89.9"/><rect x="844.5" y="317.5" width="8.8" height="89.9"/><rect x="853.3" y="317.5" width="8.8" height="89.9"/><rect x="493.6" y="317.5" width="8.8" height="89.9"/><rect x="511.2" y="317.5" width="8.8" height="89.9"/><rect x="528.7" y="317.5" width="8.8" height="89.9"/><rect x="537.5" y="317.5" width="8.8" height="89.9"/><rect x="607.7" y="317.5" width="8.8" height="89.9"/><rect x="642.8" y="317.5" width="8.8" height="89.9"/><rect x="669.1" y="317.5" width="8.8" height="89.9"/><rect x="686.6" y="317.5" width="8.8" height="89.9"/><rect x="721.7" y="317.5" width="8.8" height="89.9"/><rect x="405.9" y="317.5" width="8.8" height="89.9"/><rect x="441.0" y="317.5" width="8.8" height="89.9"/><rect x="748.0" y="317.5" width="8.8" height="89.9"/><rect x="379.6" y="317.5" width="8.8" height="89.9"/><rect x="853.3" y="317.5" width="8.8" height="89.9"/><rect x="862.1" y="317.5" width="8.8" height="89.9"/><rect x="379.6" y="321.6" width="8.8" height="85.8"/><rect x="827.0" y="321.6" width="8.8" height="85.8"/><rect x="835.7" y="321.6" width="8.8" height="85.8"/><rect x="853.3" y="321.6" width="8.8" height="85.8"/><rect x="388.3" y="321.6" width="8.8" height="85.8"/><rect x="835.7" y="321.6" width="8.8" height="85.8"/><rect x="362.0" y="321.6" width="8.8" height="85.8"/><rect x="502.4" y="321.6" width="8.8" height="85.8"/><rect x="677.8" y="321.6" width="8.8" height="85.8"/><rect x="704.2" y="321.6" width="8.8" height="85.8"/><rect x="827.0" y="321.6" width="8.8" height="85.8"/><rect x="835.7" y="321.6" width="8.8" height="85.8"/><rect x="844.5" y="321.6" width="8.8" height="85.8"/><rect x="853.3" y="321.6" width="8.8" height="85.8"/><rect x="774.3" y="321.6" width="8.8" height="85.8"/><rect x="353.3" y="321.6" width="8.8" height="85.8"/><rect x="888.4" y="321.6" width="8.8" height="85.8"/><rect x="362.0" y="325.6" width="8.8" height="81.8"/><rect x="370.8" y="325.6" width="8.8" height="81.8"/><rect x="870.8" y="325.6" width="8.8" height="81.8"/><rect x="870.8" y="325.6" width="8.8" height="81.8"/><rect x="888.4" y="325.6" width="8.8" height="81.8"/><rect x="467.3" y="325.6" width="8.8" height="81.8"/><rect x="484.8" y="325.6" width="8.8" height="81.8"/><rect x="695.4" y="325.6" width="8.8" height="81.8"/><rect x="712.9" y="325.6" width="8.8" height="81.8"/><rect x="748.0" y="325.6" width="8.8" height="81.8"/><rect x="370.8" y="325.6" width="8.8" height="81.8"/><rect x="388.3" y="325.6" width="8.8" height="81.8"/><rect x="423.4" y="325.6" width="8.8" height="81.8"/><rect x="765.6" y="325.6" width="8.8" height="81.8"/><rect x="783.1" y="325.6" width="8.8" height="81.8"/><rect x="800.7" y="325.6" width="8.8" height="81.8"/><rect x="370.8" y="325.6" width="8.8" height="81.8"/><rect x="870.8" y="325.6" width="8.8" height="81.8"/><rect x="879.6" y="325.6" width="8.8" height="81.8"/><rect x="844.5" y="329.7" width="8.8" height="77.7"/><rect x="862.1" y="329.7" width="8.8" height="77.7"/><rect x="870.8" y="329.7" width="8.8" height="77.7"/><rect x="853.3" y="329.7" width="8.8" height="77.7"/><rect x="862.1" y="329.7" width="8.8" height="77.7"/><rect x="353.3" y="329.7" width="8.8" height="77.7"/><rect x="879.6" y="329.7" width="8.8" height="77.7"/><rect x="476.1" y="329.7" width="8.8" height="77.7"/><rect x="730.5" y="329.7" width="8.8" height="77.7"/><rect x="379.6" y="329.7" width="8.8" height="77.7"/><rect x="862.1" y="329.7" width="8.8" height="77.7"/><rect x="870.8" y="329.7" width="8.8" height="77.7"/><rect x="405.9" y="329.7" width="8.8" height="77.7"/><rect x="414.7" y="329.7" width="8.8" height="77.7"/><rect x="791.9" y="329.7" width="8.8" height="77.7"/><rect x="809.4" y="329.7" width="8.8" height="77.7"/><rect x="827.0" y="329.7" width="8.8" height="77.7"/><rect x="362.0" y="329.7" width="8.8" height="77.7"/><rect x="914.7" y="329.7" width="8.8" height="77.7"/><rect x="362.0" y="333.8" width="8.8" height="73.6"/><rect x="370.8" y="333.8" width="8.8" height="73.6"/><rect x="879.6" y="333.8" width="8.8" height="73.6"/><rect x="888.4" y="333.8" width="8.8" height="73.6"/><rect x="897.2" y="333.8" width="8.8" height="73.6"/><rect x="888.4" y="333.8" width="8.8" height="73.6"/><rect x="897.2" y="333.8" width="8.8" height="73.6"/><rect x="905.9" y="333.8" width="8.8" height="73.6"/><rect x="923.5" y="333.8" width="8.8" height="73.6"/><rect x="432.2" y="333.8" width="8.8" height="73.6"/><rect x="441.0" y="333.8" width="8.8" height="73.6"/><rect x="449.8" y="333.8" width="8.8" height="73.6"/><rect x="458.5" y="333.8" width="8.8" height="73.6"/><rect x="739.2" y="333.8" width="8.8" height="73.6"/><rect x="756.8" y="333.8" width="8.8" height="73.6"/><rect x="765.6" y="333.8" width="8.8" height="73.6"/><rect x="774.3" y="333.8" width="8.8" height="73.6"/><rect x="783.1" y="333.8" width="8.8" height="73.6"/><rect x="362.0" y="333.8" width="8.8" height="73.6"/><rect x="879.6" y="333.8" width="8.8" height="73.6"/><rect x="888.4" y="333.8" width="8.8" height="73.6"/><rect x="818.2" y="333.8" width="8.8" height="73.6"/><rect x="335.7" y="333.8" width="8.8" height="73.6"/><rect x="897.2" y="333.8" width="8.8" height="73.6"/><rect x="344.5" y="337.9" width="8.8" height="69.5"/><rect x="353.3" y="337.9" width="8.8" height="69.5"/><rect x="879.6" y="337.9" width="8.8" height="69.5"/><rect x="897.2" y="337.9" width="8.8" height="69.5"/><rect x="905.9" y="337.9" width="8.8" height="69.5"/><rect x="335.7" y="337.9" width="8.8" height="69.5"/><rect x="344.5" y="337.9" width="8.8" height="69.5"/><rect x="914.7" y="337.9" width="8.8" height="69.5"/><rect x="414.7" y="337.9" width="8.8" height="69.5"/><rect x="423.4" y="337.9" width="8.8" height="69.5"/><rect x="791.9" y="337.9" width="8.8" height="69.5"/><rect x="344.5" y="337.9" width="8.8" height="69.5"/><rect x="353.3" y="337.9" width="8.8" height="69.5"/><rect x="379.6" y="337.9" width="8.8" height="69.5"/><rect x="388.3" y="337.9" width="8.8" height="69.5"/><rect x="397.1" y="337.9" width="8.8" height="69.5"/><rect x="344.5" y="337.9" width="8.8" height="69.5"/><rect x="905.9" y="337.9" width="8.8" height="69.5"/><rect x="923.5" y="337.9" width="8.8" height="69.5"/><rect x="335.7" y="342.0" width="8.8" height="65.4"/><rect x="353.3" y="342.0" width="8.8" height="65.4"/><rect x="905.9" y="342.0" width="8.8" height="65.4"/><rect x="914.7" y="342.0" width="8.8" height="65.4"/><rect x="923.5" y="342.0" width="8.8" height="65.4"/><rect x="344.5" y="342.0" width="8.8" height="65.4"/><rect x="914.7" y="342.0" width="8.8" height="65.4"/><rect x="932.2" y="342.0" width="8.8" height="65.4"/><rect x="326.9" y="342.0" width="8.8" height="65.4"/><rect x="932.2" y="342.0" width="8.8" height="65.4"/><rect x="800.7" y="342.0" width="8.8" height="65.4"/><rect x="905.9" y="342.0" width="8.8" height="65.4"/><rect x="835.7" y="342.0" width="8.8" height="65.4"/><rect x="844.5" y="342.0" width="8.8" height="65.4"/><rect x="853.3" y="342.0" width="8.8" height="65.4"/><rect x="870.8" y="342.0" width="8.8" height="65.4"/><rect x="318.2" y="342.0" width="8.8" height="65.4"/><rect x="326.9" y="342.0" width="8.8" height="65.4"/><rect x="326.9" y="346.1" width="8.8" height="61.3"/><rect x="326.9" y="346.1" width="8.8" height="61.3"/><rect x="335.7" y="346.1" width="8.8" height="61.3"/><rect x="923.5" y="346.1" width="8.8" height="61.3"/><rect x="941.0" y="346.1" width="8.8" height="61.3"/><rect x="949.8" y="346.1" width="8.8" height="61.3"/><rect x="318.2" y="346.1" width="8.8" height="61.3"/><rect x="941.0" y="346.1" width="8.8" height="61.3"/><rect x="949.8" y="346.1" width="8.8" height="61.3"/><rect x="967.3" y="346.1" width="8.8" height="61.3"/><rect x="405.9" y="346.1" width="8.8" height="61.3"/><rect x="809.4" y="346.1" width="8.8" height="61.3"/><rect x="818.2" y="346.1" width="8.8" height="61.3"/><rect x="835.7" y="346.1" width="8.8" height="61.3"/><rect x="897.2" y="346.1" width="8.8" height="61.3"/><rect x="914.7" y="346.1" width="8.8" height="61.3"/><rect x="362.0" y="346.1" width="8.8" height="61.3"/><rect x="370.8" y="346.1" width="8.8" height="61.3"/><rect x="932.2" y="346.1" width="8.8" height="61.3"/><rect x="941.0" y="346.1" width="8.8" height="61.3"/><rect x="949.8" y="346.1" width="8.8" height="61.3"/><rect x="967.3" y="346.1" width="8.8" height="61.3"/><rect x="932.2" y="350.2" width="8.8" height="57.2"/><rect x="941.0" y="350.2" width="8.8" height="57.2"/><rect x="949.8" y="350.2" width="8.8" height="57.2"/><rect x="318.2" y="350.2" width="8.8" height="57.2"/><rect x="967.3" y="350.2" width="8.8" height="57.2"/><rect x="958.6" y="350.2" width="8.8" height="57.2"/><rect x="976.1" y="350.2" width="8.8" height="57.2"/><rect x="984.9" y="350.2" width="8.8" height="57.2"/><rect x="379.6" y="350.2" width="8.8" height="57.2"/><rect x="388.3" y="350.2" width="8.8" height="57.2"/><rect x="397.1" y="350.2" width="8.8" height="57.2"/><rect x="827.0" y="350.2" width="8.8" height="57.2"/><rect x="844.5" y="350.2" width="8.8" height="57.2"/><rect x="326.9" y="350.2" width="8.8" height="57.2"/><rect x="335.7" y="350.2" width="8.8" height="57.2"/><rect x="923.5" y="350.2" width="8.8" height="57.2"/><rect x="932.2" y="350.2" width="8.8" height="57.2"/><rect x="353.3" y="350.2" width="8.8" height="57.2"/><rect x="862.1" y="350.2" width="8.8" height="57.2"/><rect x="879.6" y="350.2" width="8.8" height="57.2"/><rect x="958.6" y="350.2" width="8.8" height="57.2"/><rect x="976.1" y="350.2" width="8.8" height="57.2"/><rect x="984.9" y="350.2" width="8.8" height="57.2"/><rect x="309.4" y="354.3" width="8.8" height="53.1"/><rect x="318.2" y="354.3" width="8.8" height="53.1"/><rect x="958.6" y="354.3" width="8.8" height="53.1"/><rect x="309.4" y="354.3" width="8.8" height="53.1"/><rect x="958.6" y="354.3" width="8.8" height="53.1"/><rect x="300.6" y="354.3" width="8.8" height="53.1"/><rect x="309.4" y="354.3" width="8.8" height="53.1"/><rect x="993.6" y="354.3" width="8.8" height="53.1"/><rect x="1011.2" y="354.3" width="8.8" height="53.1"/><rect x="853.3" y="354.3" width="8.8" height="53.1"/><rect x="870.8" y="354.3" width="8.8" height="53.1"/><rect x="318.2" y="354.3" width="8.8" height="53.1"/><rect x="941.0" y="354.3" width="8.8" height="53.1"/><rect x="949.8" y="354.3" width="8.8" height="53.1"/><rect x="958.6" y="354.3" width="8.8" height="53.1"/><rect x="967.3" y="354.3" width="8.8" height="53.1"/><rect x="984.9" y="354.3" width="8.8" height="53.1"/><rect x="344.5" y="354.3" width="8.8" height="53.1"/><rect x="888.4" y="354.3" width="8.8" height="53.1"/><rect x="897.2" y="354.3" width="8.8" height="53.1"/><rect x="905.9" y="354.3" width="8.8" height="53.1"/><rect x="914.7" y="354.3" width="8.8" height="53.1"/><rect x="300.6" y="354.3" width="8.8" height="53.1"/><rect x="309.4" y="354.3" width="8.8" height="53.1"/><rect x="993.6" y="354.3" width="8.8" height="53.1"/><rect x="1002.4" y="354.3" width="8.8" height="53.1"/><rect x="967.3" y="358.3" width="8.8" height="49.1"/><rect x="976.1" y="358.3" width="8.8" height="49.1"/><rect x="984.9" y="358.3" width="8.8" height="49.1"/><rect x="976.1" y="358.3" width="8.8" height="49.1"/><rect x="984.9" y="358.3" width="8.8" height="49.1"/><rect x="993.6" y="358.3" width="8.8" height="49.1"/><rect x="1002.4" y="358.3" width="8.8" height="49.1"/><rect x="1002.4" y="358.3" width="8.8" height="49.1"/><rect x="362.0" y="358.3" width="8.8" height="49.1"/><rect x="370.8" y="358.3" width="8.8" height="49.1"/><rect x="862.1" y="358.3" width="8.8" height="49.1"/><rect x="879.6" y="358.3" width="8.8" height="49.1"/><rect x="888.4" y="358.3" width="8.8" height="49.1"/><rect x="897.2" y="358.3" width="8.8" height="49.1"/><rect x="309.4" y="358.3" width="8.8" height="49.1"/><rect x="993.6" y="358.3" width="8.8" height="49.1"/><rect x="923.5" y="358.3" width="8.8" height="49.1"/><rect x="291.9" y="358.3" width="8.8" height="49.1"/><rect x="1011.2" y="358.3" width="8.8" height="49.1"/><rect x="1020.0" y="358.3" width="8.8" height="49.1"/><rect x="300.6" y="362.4" width="8.8" height="45.0"/><rect x="993.6" y="362.4" width="8.8" height="45.0"/><rect x="1002.4" y="362.4" width="8.8" height="45.0"/><rect x="1011.2" y="362.4" width="8.8" height="45.0"/><rect x="1028.7" y="362.4" width="8.8" height="45.0"/><rect x="300.6" y="362.4" width="8.8" height="45.0"/><rect x="1020.0" y="362.4" width="8.8" height="45.0"/><rect x="1037.5" y="362.4" width="8.8" height="45.0"/><rect x="283.1" y="362.4" width="8.8" height="45.0"/><rect x="291.9" y="362.4" width="8.8" height="45.0"/><rect x="1020.0" y="362.4" width="8.8" height="45.0"/><rect x="1028.7" y="362.4" width="8.8" height="45.0"/><rect x="1037.5" y="362.4" width="8.8" height="45.0"/><rect x="1046.3" y="362.4" width="8.8" height="45.0"/><rect x="335.7" y="362.4" width="8.8" height="45.0"/><rect x="344.5" y="362.4" width="8.8" height="45.0"/><rect x="353.3" y="362.4" width="8.8" height="45.0"/><rect x="291.9" y="362.4" width="8.8" height="45.0"/><rect x="300.6" y="362.4" width="8.8" height="45.0"/><rect x="976.1" y="362.4" width="8.8" height="45.0"/><rect x="1002.4" y="362.4" width="8.8" height="45.0"/><rect x="1011.2" y="362.4" width="8.8" height="45.0"/><rect x="1028.7" y="362.4" width="8.8" height="45.0"/><rect x="326.9" y="362.4" width="8.8" height="45.0"/><rect x="335.7" y="362.4" width="8.8" height="45.0"/><rect x="932.2" y="362.4" width="8.8" height="45.0"/><rect x="941.0" y="362.4" width="8.8" height="45.0"/><rect x="949.8" y="362.4" width="8.8" height="45.0"/><rect x="967.3" y="362.4" width="8.8" height="45.0"/><rect x="283.1" y="362.4" width="8.8" height="45.0"/><rect x="1028.7" y="362.4" width="8.8" height="45.0"/><rect x="291.9" y="366.5" width="8.8" height="40.9"/><rect x="1020.0" y="366.5" width="8.8" height="40.9"/><rect x="283.1" y="366.5" width="8.8" height="40.9"/><rect x="291.9" y="366.5" width="8.8" height="40.9"/><rect x="1011.2" y="366.5" width="8.8" height="40.9"/><rect x="1028.7" y="366.5" width="8.8" height="40.9"/><rect x="1046.3" y="366.5" width="8.8" height="40.9"/><rect x="1055.1" y="366.5" width="8.8" height="40.9"/><rect x="1072.6" y="366.5" width="8.8" height="40.9"/><rect x="1081.4" y="366.5" width="8.8" height="40.9"/><rect x="318.2" y="366.5" width="8.8" height="40.9"/><rect x="905.9" y="366.5" width="8.8" height="40.9"/><rect x="914.7" y="366.5" width="8.8" height="40.9"/><rect x="932.2" y="366.5" width="8.8" height="40.9"/><rect x="949.8" y="366.5" width="8.8" height="40.9"/><rect x="283.1" y="366.5" width="8.8" height="40.9"/><rect x="1020.0" y="366.5" width="8.8" height="40.9"/><rect x="309.4" y="366.5" width="8.8" height="40.9"/><rect x="318.2" y="366.5" width="8.8" height="40.9"/><rect x="958.6" y="366.5" width="8.8" height="40.9"/><rect x="976.1" y="366.5" width="8.8" height="40.9"/><rect x="1037.5" y="366.5" width="8.8" height="40.9"/><rect x="1046.3" y="366.5" width="8.8" height="40.9"/><rect x="1055.1" y="366.5" width="8.8" height="40.9"/><rect x="1063.8" y="366.5" width="8.8" height="40.9"/><rect x="283.1" y="370.6" width="8.8" height="36.8"/><rect x="1037.5" y="370.6" width="8.8" height="36.8"/><rect x="1046.3" y="370.6" width="8.8" height="36.8"/><rect x="1055.1" y="370.6" width="8.8" height="36.8"/><rect x="1063.8" y="370.6" width="8.8" height="36.8"/><rect x="274.3" y="370.6" width="8.8" height="36.8"/><rect x="1055.1" y="370.6" width="8.8" height="36.8"/><rect x="1063.8" y="370.6" width="8.8" height="36.8"/><rect x="1072.6" y="370.6" width="8.8" height="36.8"/><rect x="265.5" y="370.6" width="8.8" height="36.8"/><rect x="274.3" y="370.6" width="8.8" height="36.8"/><rect x="1063.8" y="370.6" width="8.8" height="36.8"/><rect x="309.4" y="370.6" width="8.8" height="36.8"/><rect x="326.9" y="370.6" width="8.8" height="36.8"/><rect x="923.5" y="370.6" width="8.8" height="36.8"/><rect x="941.0" y="370.6" width="8.8" height="36.8"/><rect x="958.6" y="370.6" width="8.8" height="36.8"/><rect x="976.1" y="370.6" width="8.8" height="36.8"/><rect x="265.5" y="370.6" width="8.8" height="36.8"/><rect x="274.3" y="370.6" width="8.8" height="36.8"/><rect x="1037.5" y="370.6" width="8.8" height="36.8"/><rect x="1046.3" y="370.6" width="8.8" height="36.8"/><rect x="1055.1" y="370.6" width="8.8" height="36.8"/><rect x="1063.8" y="370.6" width="8.8" height="36.8"/><rect x="291.9" y="370.6" width="8.8" height="36.8"/><rect x="300.6" y="370.6" width="8.8" height="36.8"/><rect x="984.9" y="370.6" width="8.8" height="36.8"/><rect x="993.6" y="370.6" width="8.8" height="36.8"/><rect x="1011.2" y="370.6" width="8.8" height="36.8"/><rect x="256.8" y="370.6" width="8.8" height="36.8"/><rect x="274.3" y="370.6" width="8.8" height="36.8"/><rect x="1072.6" y="370.6" width="8.8" height="36.8"/><rect x="1090.1" y="370.6" width="8.8" height="36.8"/><rect x="265.5" y="374.7" width="8.8" height="32.7"/><rect x="274.3" y="374.7" width="8.8" height="32.7"/><rect x="1072.6" y="374.7" width="8.8" height="32.7"/><rect x="256.8" y="374.7" width="8.8" height="32.7"/><rect x="265.5" y="374.7" width="8.8" height="32.7"/><rect x="1081.4" y="374.7" width="8.8" height="32.7"/><rect x="1090.1" y="374.7" width="8.8" height="32.7"/><rect x="1098.9" y="374.7" width="8.8" height="32.7"/><rect x="248.0" y="374.7" width="8.8" height="32.7"/><rect x="256.8" y="374.7" width="8.8" height="32.7"/><rect x="1090.1" y="374.7" width="8.8" height="32.7"/><rect x="1098.9" y="374.7" width="8.8" height="32.7"/><rect x="1107.7" y="374.7" width="8.8" height="32.7"/><rect x="1116.5" y="374.7" width="8.8" height="32.7"/><rect x="967.3" y="374.7" width="8.8" height="32.7"/><rect x="984.9" y="374.7" width="8.8" height="32.7"/><rect x="993.6" y="374.7" width="8.8" height="32.7"/><rect x="1011.2" y="374.7" width="8.8" height="32.7"/><rect x="1072.6" y="374.7" width="8.8" height="32.7"/><rect x="1081.4" y="374.7" width="8.8" height="32.7"/><rect x="1098.9" y="374.7" width="8.8" height="32.7"/><rect x="283.1" y="374.7" width="8.8" height="32.7"/><rect x="1002.4" y="374.7" width="8.8" height="32.7"/><rect x="1020.0" y="374.7" width="8.8" height="32.7"/><rect x="1028.7" y="374.7" width="8.8" height="32.7"/><rect x="1046.3" y="374.7" width="8.8" height="32.7"/><rect x="248.0" y="374.7" width="8.8" height="32.7"/><rect x="265.5" y="374.7" width="8.8" height="32.7"/><rect x="1081.4" y="374.7" width="8.8" height="32.7"/><rect x="1098.9" y="374.7" width="8.8" height="32.7"/><rect x="256.8" y="378.8" width="8.8" height="28.6"/><rect x="1081.4" y="378.8" width="8.8" height="28.6"/><rect x="1090.1" y="378.8" width="8.8" height="28.6"/><rect x="1098.9" y="378.8" width="8.8" height="28.6"/><rect x="1107.7" y="378.8" width="8.8" height="28.6"/><rect x="248.0" y="378.8" width="8.8" height="28.6"/><rect x="1107.7" y="378.8" width="8.8" height="28.6"/><rect x="230.4" y="378.8" width="8.8" height="28.6"/><rect x="239.2" y="378.8" width="8.8" height="28.6"/><rect x="1125.2" y="378.8" width="8.8" height="28.6"/><rect x="1134.0" y="378.8" width="8.8" height="28.6"/><rect x="283.1" y="378.8" width="8.8" height="28.6"/><rect x="291.9" y="378.8" width="8.8" height="28.6"/><rect x="300.6" y="378.8" width="8.8" height="28.6"/><rect x="1002.4" y="378.8" width="8.8" height="28.6"/><rect x="1020.0" y="378.8" width="8.8" height="28.6"/><rect x="1028.7" y="378.8" width="8.8" height="28.6"/><rect x="1046.3" y="378.8" width="8.8" height="28.6"/><rect x="239.2" y="378.8" width="8.8" height="28.6"/><rect x="248.0" y="378.8" width="8.8" height="28.6"/><rect x="256.8" y="378.8" width="8.8" height="28.6"/><rect x="1090.1" y="378.8" width="8.8" height="28.6"/><rect x="1107.7" y="378.8" width="8.8" height="28.6"/><rect x="1116.5" y="378.8" width="8.8" height="28.6"/><rect x="265.5" y="378.8" width="8.8" height="28.6"/><rect x="274.3" y="378.8" width="8.8" height="28.6"/><rect x="1037.5" y="378.8" width="8.8" height="28.6"/><rect x="1055.1" y="378.8" width="8.8" height="28.6"/><rect x="1063.8" y="378.8" width="8.8" height="28.6"/><rect x="230.4" y="378.8" width="8.8" height="28.6"/><rect x="239.2" y="378.8" width="8.8" height="28.6"/><rect x="1107.7" y="378.8" width="8.8" height="28.6"/><rect x="1116.5" y="378.8" width="8.8" height="28.6"/><rect x="1125.2" y="378.8" width="8.8" height="28.6"/><rect x="1134.0" y="378.8" width="8.8" height="28.6"/><rect x="239.2" y="382.9" width="8.8" height="24.5"/><rect x="248.0" y="382.9" width="8.8" height="24.5"/><rect x="1116.5" y="382.9" width="8.8" height="24.5"/><rect x="1125.2" y="382.9" width="8.8" height="24.5"/><rect x="1134.0" y="382.9" width="8.8" height="24.5"/><rect x="230.4" y="382.9" width="8.8" height="24.5"/><rect x="239.2" y="382.9" width="8.8" height="24.5"/><rect x="1116.5" y="382.9" width="8.8" height="24.5"/><rect x="1125.2" y="382.9" width="8.8" height="24.5"/><rect x="1134.0" y="382.9" width="8.8" height="24.5"/><rect x="1142.8" y="382.9" width="8.8" height="24.5"/><rect x="221.7" y="382.9" width="8.8" height="24.5"/><rect x="1142.8" y="382.9" width="8.8" height="24.5"/><rect x="1151.6" y="382.9" width="8.8" height="24.5"/><rect x="274.3" y="382.9" width="8.8" height="24.5"/><rect x="1037.5" y="382.9" width="8.8" height="24.5"/><rect x="1055.1" y="382.9" width="8.8" height="24.5"/><rect x="1063.8" y="382.9" width="8.8" height="24.5"/><rect x="1125.2" y="382.9" width="8.8" height="24.5"/><rect x="1134.0" y="382.9" width="8.8" height="24.5"/><rect x="248.0" y="382.9" width="8.8" height="24.5"/><rect x="256.8" y="382.9" width="8.8" height="24.5"/><rect x="1072.6" y="382.9" width="8.8" height="24.5"/><rect x="1081.4" y="382.9" width="8.8" height="24.5"/><rect x="1090.1" y="382.9" width="8.8" height="24.5"/><rect x="1098.9" y="382.9" width="8.8" height="24.5"/><rect x="1107.7" y="382.9" width="8.8" height="24.5"/><rect x="221.7" y="382.9" width="8.8" height="24.5"/><rect x="1142.8" y="382.9" width="8.8" height="24.5"/><rect x="1151.6" y="382.9" width="8.8" height="24.5"/><rect x="221.7" y="387.0" width="8.8" height="20.4"/><rect x="230.4" y="387.0" width="8.8" height="20.4"/><rect x="1142.8" y="387.0" width="8.8" height="20.4"/><rect x="1151.6" y="387.0" width="8.8" height="20.4"/><rect x="1160.3" y="387.0" width="8.8" height="20.4"/><rect x="212.9" y="387.0" width="8.8" height="20.4"/><rect x="221.7" y="387.0" width="8.8" height="20.4"/><rect x="1151.6" y="387.0" width="8.8" height="20.4"/><rect x="1160.3" y="387.0" width="8.8" height="20.4"/><rect x="212.9" y="387.0" width="8.8" height="20.4"/><rect x="1160.3" y="387.0" width="8.8" height="20.4"/><rect x="1169.1" y="387.0" width="8.8" height="20.4"/><rect x="248.0" y="387.0" width="8.8" height="20.4"/><rect x="256.8" y="387.0" width="8.8" height="20.4"/><rect x="265.5" y="387.0" width="8.8" height="20.4"/><rect x="1072.6" y="387.0" width="8.8" height="20.4"/><rect x="1081.4" y="387.0" width="8.8" height="20.4"/><rect x="1090.1" y="387.0" width="8.8" height="20.4"/><rect x="1098.9" y="387.0" width="8.8" height="20.4"/><rect x="1107.7" y="387.0" width="8.8" height="20.4"/><rect x="1116.5" y="387.0" width="8.8" height="20.4"/><rect x="221.7" y="387.0" width="8.8" height="20.4"/><rect x="230.4" y="387.0" width="8.8" height="20.4"/><rect x="1142.8" y="387.0" width="8.8" height="20.4"/><rect x="1151.6" y="387.0" width="8.8" height="20.4"/><rect x="1160.3" y="387.0" width="8.8" height="20.4"/><rect x="239.2" y="387.0" width="8.8" height="20.4"/><rect x="1116.5" y="387.0" width="8.8" height="20.4"/><rect x="1125.2" y="387.0" width="8.8" height="20.4"/><rect x="212.9" y="387.0" width="8.8" height="20.4"/><rect x="1160.3" y="387.0" width="8.8" height="20.4"/><rect x="1169.1" y="387.0" width="8.8" height="20.4"/><rect x="204.1" y="391.0" width="8.8" height="16.4"/><rect x="212.9" y="391.0" width="8.8" height="16.4"/><rect x="1169.1" y="391.0" width="8.8" height="16.4"/><rect x="1177.9" y="391.0" width="8.8" height="16.4"/><rect x="195.4" y="391.0" width="8.8" height="16.4"/><rect x="204.1" y="391.0" width="8.8" height="16.4"/><rect x="1169.1" y="391.0" width="8.8" height="16.4"/><rect x="204.1" y="391.0" width="8.8" height="16.4"/><rect x="1177.9" y="391.0" width="8.8" height="16.4"/><rect x="230.4" y="391.0" width="8.8" height="16.4"/><rect x="239.2" y="391.0" width="8.8" height="16.4"/><rect x="1125.2" y="391.0" width="8.8" height="16.4"/><rect x="1134.0" y="391.0" width="8.8" height="16.4"/><rect x="1142.8" y="391.0" width="8.8" height="16.4"/><rect x="1151.6" y="391.0" width="8.8" height="16.4"/><rect x="204.1" y="391.0" width="8.8" height="16.4"/><rect x="212.9" y="391.0" width="8.8" height="16.4"/><rect x="1169.1" y="391.0" width="8.8" height="16.4"/><rect x="1177.9" y="391.0" width="8.8" height="16.4"/><rect x="221.7" y="391.0" width="8.8" height="16.4"/><rect x="230.4" y="391.0" width="8.8" height="16.4"/><rect x="1134.0" y="391.0" width="8.8" height="16.4"/><rect x="1142.8" y="391.0" width="8.8" height="16.4"/><rect x="1151.6" y="391.0" width="8.8" height="16.4"/><rect x="1160.3" y="391.0" width="8.8" height="16.4"/><rect x="195.4" y="391.0" width="8.8" height="16.4"/><rect x="204.1" y="391.0" width="8.8" height="16.4"/><rect x="1177.9" y="391.0" width="8.8" height="16.4"/><rect x="186.6" y="395.1" width="8.8" height="12.3"/><rect x="195.4" y="395.1" width="8.8" height="12.3"/><rect x="1186.6" y="395.1" width="8.8" height="12.3"/><rect x="177.8" y="395.1" width="8.8" height="12.3"/><rect x="186.6" y="395.1" width="8.8" height="12.3"/><rect x="1177.9" y="395.1" width="8.8" height="12.3"/><rect x="1186.6" y="395.1" width="8.8" height="12.3"/><rect x="177.8" y="395.1" width="8.8" height="12.3"/><rect x="186.6" y="395.1" width="8.8" height="12.3"/><rect x="195.4" y="395.1" width="8.8" height="12.3"/><rect x="1186.6" y="395.1" width="8.8" height="12.3"/><rect x="204.1" y="395.1" width="8.8" height="12.3"/><rect x="212.9" y="395.1" width="8.8" height="12.3"/><rect x="221.7" y="395.1" width="8.8" height="12.3"/><rect x="1160.3" y="395.1" width="8.8" height="12.3"/><rect x="1169.1" y="395.1" width="8.8" height="12.3"/><rect x="186.6" y="395.1" width="8.8" height="12.3"/><rect x="195.4" y="395.1" width="8.8" height="12.3"/><rect x="1186.6" y="395.1" width="8.8" height="12.3"/><rect x="195.4" y="395.1" width="8.8" height="12.3"/><rect x="204.1" y="395.1" width="8.8" height="12.3"/><rect x="212.9" y="395.1" width="8.8" height="12.3"/><rect x="1169.1" y="395.1" width="8.8" height="12.3"/><rect x="1177.9" y="395.1" width="8.8" height="12.3"/><rect x="177.8" y="395.1" width="8.8" height="12.3"/><rect x="186.6" y="395.1" width="8.8" height="12.3"/><rect x="1186.6" y="395.1" width="8.8" height="12.3"/><rect x="169.0" y="399.2" width="8.8" height="8.2"/><rect x="177.8" y="399.2" width="8.8" height="8.2"/><rect x="1195.4" y="399.2" width="8.8" height="8.2"/><rect x="169.0" y="399.2" width="8.8" height="8.2"/><rect x="1195.4" y="399.2" width="8.8" height="8.2"/><rect x="169.0" y="399.2" width="8.8" height="8.2"/><rect x="1195.4" y="399.2" width="8.8" height="8.2"/><rect x="177.8" y="399.2" width="8.8" height="8.2"/><rect x="186.6" y="399.2" width="8.8" height="8.2"/><rect x="195.4" y="399.2" width="8.8" height="8.2"/><rect x="1177.9" y="399.2" width="8.8" height="8.2"/><rect x="1186.6" y="399.2" width="8.8" height="8.2"/><rect x="169.0" y="399.2" width="8.8" height="8.2"/><rect x="177.8" y="399.2" width="8.8" height="8.2"/><rect x="1195.4" y="399.2" width="8.8" height="8.2"/><rect x="169.0" y="399.2" width="8.8" height="8.2"/><rect x="177.8" y="399.2" width="8.8" height="8.2"/><rect x="186.6" y="399.2" width="8.8" height="8.2"/><rect x="1186.6" y="399.2" width="8.8" height="8.2"/><rect x="169.0" y="399.2" width="8.8" height="8.2"/><rect x="1195.4" y="399.2" width="8.8" height="8.2"/><rect x="1204.2" y="403.3" width="8.8" height="4.1"/><rect x="1204.2" y="403.3" width="8.8" height="4.1"/><rect x="1204.2" y="403.3" width="8.8" height="4.1"/><rect x="169.0" y="403.3" width="8.8" height="4.1"/><rect x="1195.4" y="403.3" width="8.8" height="4.1"/><rect x="1204.2" y="403.3" width="8.8" height="4.1"/><rect x="1195.4" y="403.3" width="8.8" height="4.1"/><rect x="1204.2" y="403.3" width="8.8" height="4.1"/></g>
<g fill="#808080" fill-opacity="0.11" stroke="#000" stroke-opacity="0.13" stroke-width="1.0"><rect x="169.0" y="407.4" width="70.2" height="70.3"/><rect x="195.4" y="407.4" width="70.2" height="98.1"/><rect x="230.4" y="407.4" width="70.2" height="102.2"/><rect x="265.5" y="407.4" width="70.2" height="93.2"/><rect x="335.7" y="407.4" width="61.4" height="120.2"/><rect x="379.6" y="407.4" width="70.2" height="157.0"/><rect x="449.8" y="407.4" width="43.9" height="137.3"/><rect x="493.6" y="407.4" width="70.2" height="167.6"/><rect x="563.8" y="407.4" width="26.3" height="119.4"/><rect x="590.1" y="407.4" width="61.4" height="110.4"/><rect x="230.4" y="407.4" width="70.2" height="15.9"/><rect x="300.6" y="407.4" width="70.2" height="36.6"/><rect x="370.8" y="407.4" width="70.2" height="42.1"/><rect x="441.0" y="407.4" width="70.2" height="93.7"/><rect x="511.2" y="407.4" width="70.2" height="117.5"/><rect x="581.3" y="407.4" width="70.2" height="75.0"/><rect x="651.5" y="407.4" width="70.2" height="64.3"/><rect x="721.7" y="407.4" width="70.2" height="49.6"/><rect x="791.9" y="407.4" width="70.2" height="30.3"/><rect x="862.1" y="407.4" width="70.2" height="26.5"/><rect x="932.2" y="407.4" width="70.2" height="26.9"/><rect x="1002.4" y="407.4" width="70.2" height="18.3"/><rect x="1072.6" y="407.4" width="70.2" height="20.2"/><rect x="1142.8" y="407.4" width="70.2" height="17.0"/><rect x="1213.0" y="407.4" width="70.2" height="15.4"/><rect x="1283.1" y="407.4" width="70.2" height="9.5"/><rect x="1353.3" y="407.4" width="70.2" height="10.4"/><rect x="1423.5" y="407.4" width="70.2" height="7.3"/><rect x="1493.7" y="407.4" width="70.2" height="6.1"/><rect x="1563.9" y="407.4" width="70.2" height="5.2"/><rect x="1634.0" y="407.4" width="70.2" height="6.1"/><rect x="1704.2" y="407.4" width="52.6" height="1.7"/><rect x="186.6" y="407.4" width="70.2" height="13.2"/><rect x="256.8" y="407.4" width="70.2" height="23.4"/><rect x="326.9" y="407.4" width="70.2" height="34.0"/><rect x="397.1" y="407.4" width="70.2" height="57.9"/><rect x="467.3" y="407.4" width="70.2" height="91.2"/><rect x="537.5" y="407.4" width="70.2" height="79.2"/><rect x="607.7" y="407.4" width="70.2" height="65.0"/><rect x="677.8" y="407.4" width="70.2" height="55.3"/><rect x="748.0" y="407.4" width="70.2" height="40.6"/><rect x="818.2" y="407.4" width="70.2" height="34.1"/><rect x="888.4" y="407.4" width="70.2" height="28.6"/><rect x="958.6" y="407.4" width="70.2" height="27.4"/><rect x="1028.7" y="407.4" width="70.2" height="23.4"/><rect x="1098.9" y="407.4" width="70.2" height="15.0"/><rect x="1169.1" y="407.4" width="70.2" height="12.4"/><rect x="1239.3" y="407.4" width="70.2" height="12.3"/><rect x="1309.5" y="407.4" width="70.2" height="9.7"/><rect x="1379.6" y="407.4" width="70.2" height="9.5"/><rect x="1449.8" y="407.4" width="70.2" height="6.8"/><rect x="1520.0" y="407.4" width="70.2" height="6.3"/><rect x="1590.2" y="407.4" width="70.2" height="4.6"/><rect x="1660.4" y="407.4" width="70.2" height="5.3"/><rect x="1730.5" y="407.4" width="26.3" height="1.1"/><rect x="221.7" y="407.4" width="70.2" height="17.3"/><rect x="291.9" y="407.4" width="70.2" height="25.7"/><rect x="362.0" y="407.4" width="70.2" height="44.9"/><rect x="432.2" y="407.4" width="70.2" height="84.6"/><rect x="502.4" y="407.4" width="70.2" height="84.4"/><rect x="572.6" y="407.4" width="70.2" height="79.1"/><rect x="642.8" y="407.4" width="70.2" height="68.3"/><rect x="712.9" y="407.4" width="70.2" height="53.7"/><rect x="783.1" y="407.4" width="70.2" height="30.3"/><rect x="853.3" y="407.4" width="70.2" height="28.0"/><rect x="923.5" y="407.4" width="70.2" height="27.7"/><rect x="993.6" y="407.4" width="70.2" height="19.0"/><rect x="1063.8" y="407.4" width="70.2" height="21.1"/><rect x="1134.0" y="407.4" width="70.2" height="12.9"/><rect x="1204.2" y="407.4" width="70.2" height="13.5"/><rect x="1274.4" y="407.4" width="70.2" height="10.8"/><rect x="1344.6" y="407.4" width="70.2" height="7.9"/><rect x="1414.7" y="407.4" width="70.2" height="6.6"/><rect x="1484.9" y="407.4" width="70.2" height="5.3"/><rect x="1555.1" y="407.4" width="70.2" height="5.5"/><rect x="1625.3" y="407.4" width="70.2" height="4.6"/><rect x="1695.5" y="407.4" width="61.4" height="2.9"/><rect x="169.0" y="407.4" width="70.2" height="8.6"/><rect x="239.2" y="407.4" width="70.2" height="20.0"/><rect x="309.4" y="407.4" width="70.2" height="28.7"/><rect x="379.6" y="407.4" width="70.2" height="56.2"/><rect x="449.8" y="407.4" width="70.2" height="93.0"/><rect x="519.9" y="407.4" width="70.2" height="116.5"/><rect x="590.1" y="407.4" width="70.2" height="87.9"/><rect x="660.3" y="407.4" width="70.2" height="53.4"/><rect x="730.5" y="407.4" width="70.2" height="38.6"/><rect x="800.7" y="407.4" width="70.2" height="31.3"/><rect x="870.8" y="407.4" width="70.2" height="26.4"/><rect x="941.0" y="407.4" width="70.2" height="27.1"/><rect x="1011.2" y="407.4" width="70.2" height="20.6"/><rect x="1081.4" y="407.4" width="70.2" height="18.8"/><rect x="1151.6" y="407.4" width="70.2" height="12.3"/><rect x="1221.7" y="407.4" width="70.2" height="14.4"/><rect x="1291.9" y="407.4" width="70.2" height="13.4"/><rect x="1362.1" y="407.4" width="70.2" height="8.4"/><rect x="1432.3" y="407.4" width="70.2" height="8.4"/><rect x="1502.5" y="407.4" width="70.2" height="5.6"/><rect x="1572.6" y="407.4" width="70.2" height="4.6"/><rect x="1642.8" y="407.4" width="70.2" height="4.7"/><rect x="1713.0" y="407.4" width="43.9" height="1.5"/></g>
<g fill="#808080" fill-opacity="0.11" stroke="#000" stroke-opacity="0.15" stroke-width="1.1"><rect x="458.5" y="407.4" width="8.8" height="65.4"/><rect x="476.1" y="407.4" width="8.8" height="65.4"/><rect x="519.9" y="407.4" width="8.8" height="65.4"/><rect x="432.2" y="407.4" width="8.8" height="61.3"/><rect x="449.8" y="407.4" width="8.8" height="61.3"/><rect x="467.3" y="407.4" width="8.8" height="61.3"/><rect x="484.8" y="407.4" width="8.8" height="61.3"/><rect x="493.6" y="407.4" width="8.8" height="61.3"/><rect x="511.2" y="407.4" width="8.8" height="61.3"/><rect x="528.7" y="407.4" width="8.8" height="61.3"/><rect x="546.3" y="407.4" width="8.8" height="61.3"/><rect x="572.6" y="407.4" width="8.8" height="61.3"/><rect x="467.3" y="407.4" width="8.8" height="57.2"/><rect x="441.0" y="407.4" width="8.8" height="57.2"/><rect x="502.4" y="407.4" width="8.8" height="57.2"/><rect x="537.5" y="407.4" width="8.8" height="57.2"/><rect x="555.0" y="407.4" width="8.8" height="57.2"/><rect x="563.8" y="407.4" width="8.8" height="57.2"/><rect x="590.1" y="407.4" width="8.8" height="57.2"/><rect x="616.4" y="407.4" width="8.8" height="57.2"/><rect x="449.8" y="407.4" width="8.8" height="53.1"/><rect x="476.1" y="407.4" width="8.8" height="53.1"/><rect x="484.8" y="407.4" width="8.8" height="53.1"/><rect x="502.4" y="407.4" width="8.8" height="53.1"/><rect x="519.9" y="407.4" width="8.8" height="53.1"/><rect x="528.7" y="407.4" width="8.8" height="53.1"/><rect x="581.3" y="407.4" width="8.8" height="53.1"/><rect x="484.8" y="407.4" width="8.8" height="53.1"/><rect x="502.4" y="407.4" width="8.8" height="53.1"/><rect x="519.9" y="407.4" width="8.8" height="53.1"/><rect x="467.3" y="407.4" width="8.8" height="53.1"/><rect x="414.7" y="407.4" width="8.8" height="53.1"/><rect x="423.4" y="407.4" width="8.8" height="53.1"/><rect x="581.3" y="407.4" width="8.8" height="53.1"/><rect x="598.9" y="407.4" width="8.8" height="53.1"/><rect x="607.7" y="407.4" width="8.8" height="53.1"/><rect x="423.4" y="407.4" width="8.8" height="49.1"/><rect x="432.2" y="407.4" width="8.8" height="49.1"/><rect x="441.0" y="407.4" width="8.8" height="49.1"/><rect x="458.5" y="407.4" width="8.8" height="49.1"/><rect x="493.6" y="407.4" width="8.8" height="49.1"/><rect x="511.2" y="407.4" width="8.8" height="49.1"/><rect x="537.5" y="407.4" width="8.8" height="49.1"/><rect x="555.0" y="407.4" width="8.8" height="49.1"/><rect x="563.8" y="407.4" width="8.8" height="49.1"/><rect x="572.6" y="407.4" width="8.8" height="49.1"/><rect x="590.1" y="407.4" width="8.8" height="49.1"/><rect x="414.7" y="407.4" width="8.8" height="49.1"/><rect x="441.0" y="407.4" width="8.8" height="49.1"/><rect x="458.5" y="407.4" width="8.8" height="49.1"/><rect x="467.3" y="407.4" width="8.8" height="49.1"/><rect x="476.1" y="407.4" width="8.8" height="49.1"/><rect x="493.6" y="407.4" width="8.8" height="49.1"/><rect x="511.2" y="407.4" width="8.8" height="49.1"/><rect x="537.5" y="407.4" width="8.8" height="49.1"/><rect x="572.6" y="407.4" width="8.8" height="49.1"/><rect x="484.8" y="407.4" width="8.8" height="49.1"/><rect x="449.8" y="407.4" width="8.8" height="49.1"/><rect x="458.5" y="407.4" width="8.8" height="49.1"/><rect x="476.1" y="407.4" width="8.8" height="49.1"/><rect x="484.8" y="407.4" width="8.8" height="49.1"/><rect x="493.6" y="407.4" width="8.8" height="49.1"/><rect x="528.7" y="407.4" width="8.8" height="49.1"/><rect x="537.5" y="407.4" width="8.8" height="49.1"/><rect x="555.0" y="407.4" width="8.8" height="49.1"/><rect x="563.8" y="407.4" width="8.8" height="49.1"/><rect x="581.3" y="407.4" width="8.8" height="49.1"/><rect x="397.1" y="407.4" width="8.8" height="49.1"/><rect x="405.9" y="407.4" width="8.8" height="49.1"/><rect x="625.2" y="407.4" width="8.8" height="49.1"/><rect x="634.0" y="407.4" width="8.8" height="49.1"/><rect x="642.8" y="407.4" width="8.8" height="49.1"/><rect x="651.5" y="407.4" width="8.8" height="49.1"/><rect x="660.3" y="407.4" width="8.8" height="49.1"/><rect x="669.1" y="407.4" width="8.8" height="49.1"/><rect x="677.8" y="407.4" width="8.8" height="49.1"/><rect x="686.6" y="407.4" width="8.8" height="49.1"/><rect x="397.1" y="407.4" width="8.8" height="45.0"/><rect x="405.9" y="407.4" width="8.8" height="45.0"/><rect x="414.7" y="407.4" width="8.8" height="45.0"/><rect x="546.3" y="407.4" width="8.8" height="45.0"/><rect x="598.9" y="407.4" width="8.8" height="45.0"/><rect x="607.7" y="407.4" width="8.8" height="45.0"/><rect x="616.4" y="407.4" width="8.8" height="45.0"/><rect x="625.2" y="407.4" width="8.8" height="45.0"/><rect x="634.0" y="407.4" width="8.8" height="45.0"/><rect x="642.8" y="407.4" width="8.8" height="45.0"/><rect x="686.6" y="407.4" width="8.8" height="45.0"/><rect x="423.4" y="407.4" width="8.8" height="45.0"/><rect x="432.2" y="407.4" width="8.8" height="45.0"/><rect x="449.8" y="407.4" width="8.8" height="45.0"/><rect x="528.7" y="407.4" width="8.8" height="45.0"/><rect x="546.3" y="407.4" width="8.8" height="45.0"/><rect x="555.0" y="407.4" width="8.8" height="45.0"/><rect x="563.8" y="407.4" width="8.8" height="45.0"/><rect x="581.3" y="407.4" width="8.8" height="45.0"/><rect x="590.1" y="407.4" width="8.8" height="45.0"/><rect x="598.9" y="407.4" width="8.8" height="45.0"/><rect x="616.4" y="407.4" width="8.8" height="45.0"/><rect x="651.5" y="407.4" width="8.8" height="45.0"/><rect x="432.2" y="407.4" width="8.8" height="45.0"/><rect x="441.0" y="407.4" width="8.8" height="45.0"/><rect x="467.3" y="407.4" width="8.8" height="45.0"/><rect x="493.6" y="407.4" width="8.8" height="45.0"/><rect x="502.4" y="407.4" width="8.8" height="45.0"/><rect x="519.9" y="407.4" width="8.8" height="45.0"/><rect x="546.3" y="407.4" width="8.8" height="45.0"/><rect x="555.0" y="407.4" width="8.8" height="45.0"/><rect x="563.8" y="407.4" width="8.8" height="45.0"/><rect x="572.6" y="407.4" width="8.8" height="45.0"/><rect x="432.2" y="407.4" width="8.8" height="45.0"/><rect x="441.0" y="407.4" width="8.8" height="45.0"/><rect x="502.4" y="407.4" width="8.8" height="45.0"/><rect x="511.2" y="407.4" width="8.8" height="45.0"/><rect x="519.9" y="407.4" width="8.8" height="45.0"/><rect x="546.3" y="407.4" width="8.8" height="45.0"/><rect x="572.6" y="407.4" width="8.8" height="45.0"/><rect x="590.1" y="407.4" width="8.8" height="45.0"/><rect x="370.8" y="407.4" width="8.8" height="45.0"/><rect x="379.6" y="407.4" width="8.8" height="45.0"/><rect x="388.3" y="407.4" width="8.8" height="45.0"/><rect x="695.4" y="407.4" width="8.8" height="45.0"/><rect x="712.9" y="407.4" width="8.8" height="45.0"/><rect x="739.2" y="407.4" width="8.8" height="45.0"/><rect x="756.8" y="407.4" width="8.8" height="45.0"/><rect x="388.3" y="407.4" width="8.8" height="40.9"/><rect x="651.5" y="407.4" width="8.8" height="40.9"/><rect x="660.3" y="407.4" width="8.8" height="40.9"/><rect x="669.1" y="407.4" width="8.8" height="40.9"/><rect x="677.8" y="407.4" width="8.8" height="40.9"/><rect x="458.5" y="407.4" width="8.8" height="40.9"/><rect x="467.3" y="407.4" width="8.8" height="40.9"/><rect x="476.1" y="407.4" width="8.8" height="40.9"/><rect x="484.8" y="407.4" width="8.8" height="40.9"/><rect x="493.6" y="407.4" width="8.8" height="40.9"/><rect x="537.5" y="407.4" width="8.8" height="40.9"/><rect x="546.3" y="407.4" width="8.8" height="40.9"/><rect x="370.8" y="407.4" width="8.8" height="40.9"/><rect x="397.1" y="407.4" width="8.8" height="40.9"/><rect x="405.9" y="407.4" width="8.8" height="40.9"/><rect x="607.7" y="407.4" width="8.8" height="40.9"/><rect x="625.2" y="407.4" width="8.8" height="40.9"/><rect x="634.0" y="407.4" width="8.8" height="40.9"/><rect x="642.8" y="407.4" width="8.8" height="40.9"/><rect x="660.3" y="407.4" width="8.8" height="40.9"/><rect x="669.1" y="407.4" width="8.8" height="40.9"/><rect x="677.8" y="407.4" width="8.8" height="40.9"/><rect x="686.6" y="407.4" width="8.8" height="40.9"/><rect x="695.4" y="407.4" width="8.8" height="40.9"/><rect x="397.1" y="407.4" width="8.8" height="40.9"/><rect x="414.7" y="407.4" width="8.8" height="40.9"/><rect x="449.8" y="407.4" width="8.8" height="40.9"/><rect x="458.5" y="407.4" width="8.8" height="40.9"/><rect x="476.1" y="407.4" width="8.8" height="40.9"/><rect x="511.2" y="407.4" width="8.8" height="40.9"/><rect x="528.7" y="407.4" width="8.8" height="40.9"/><rect x="537.5" y="407.4" width="8.8" height="40.9"/><rect x="581.3" y="407.4" width="8.8" height="40.9"/><rect x="590.1" y="407.4" width="8.8" height="40.9"/><rect x="607.7" y="407.4" width="8.8" height="40.9"/><rect x="625.2" y="407.4" width="8.8" height="40.9"/><rect x="634.0" y="407.4" width="8.8" height="40.9"/><rect x="642.8" y="407.4" width="8.8" height="40.9"/><rect x="405.9" y="407.4" width="8.8" height="40.9"/><rect x="414.7" y="407.4" width="8.8" height="40.9"/><rect x="423.4" y="407.4" width="8.8" height="40.9"/><rect x="598.9" y="407.4" width="8.8" height="40.9"/><rect x="607.7" y="407.4" width="8.8" height="40.9"/><rect x="625.2" y="407.4" width="8.8" height="40.9"/><rect x="634.0" y="407.4" width="8.8" height="40.9"/><rect x="642.8" y="407.4" width="8.8" height="40.9"/><rect x="651.5" y="407.4" width="8.8" height="40.9"/><rect x="669.1" y="407.4" width="8.8" height="40.9"/><rect x="344.5" y="407.4" width="8.8" height="40.9"/><rect x="353.3" y="407.4" width="8.8" height="40.9"/><rect x="362.0" y="407.4" width="8.8" height="40.9"/><rect x="704.2" y="407.4" width="8.8" height="40.9"/><rect x="721.7" y="407.4" width="8.8" height="40.9"/><rect x="730.5" y="407.4" width="8.8" height="40.9"/><rect x="748.0" y="407.4" width="8.8" height="40.9"/><rect x="774.3" y="407.4" width="8.8" height="40.9"/><rect x="818.2" y="407.4" width="8.8" height="40.9"/><rect x="827.0" y="407.4" width="8.8" height="40.9"/><rect x="353.3" y="407.4" width="8.8" height="36.8"/><rect x="362.0" y="407.4" width="8.8" height="36.8"/><rect x="370.8" y="407.4" width="8.8" height="36.8"/><rect x="379.6" y="407.4" width="8.8" height="36.8"/><rect x="695.4" y="407.4" width="8.8" height="36.8"/><rect x="704.2" y="407.4" width="8.8" height="36.8"/><rect x="712.9" y="407.4" width="8.8" height="36.8"/><rect x="721.7" y="407.4" width="8.8" height="36.8"/><rect x="748.0" y="407.4" width="8.8" height="36.8"/><rect x="756.8" y="407.4" width="8.8" height="36.8"/><rect x="765.6" y="407.4" width="8.8" height="36.8"/><rect x="458.5" y="407.4" width="8.8" height="36.8"/><rect x="476.1" y="407.4" width="8.8" height="36.8"/><rect x="484.8" y="407.4" width="8.8" height="36.8"/><rect x="493.6" y="407.4" width="8.8" height="36.8"/><rect x="441.0" y="407.4" width="8.8" height="36.8"/><rect x="449.8" y="407.4" width="8.8" height="36.8"/><rect x="502.4" y="407.4" width="8.8" height="36.8"/><rect x="511.2" y="407.4" width="8.8" height="36.8"/><rect x="519.9" y="407.4" width="8.8" height="36.8"/><rect x="528.7" y="407.4" width="8.8" height="36.8"/><rect x="563.8" y="407.4" width="8.8" height="36.8"/><rect x="572.6" y="407.4" width="8.8" height="36.8"/><rect x="581.3" y="407.4" width="8.8" height="36.8"/><rect x="590.1" y="407.4" width="8.8" height="36.8"/><rect x="625.2" y="407.4" width="8.8" height="36.8"/><rect x="353.3" y="407.4" width="8.8" height="36.8"/><rect x="379.6" y="407.4" width="8.8" height="36.8"/><rect x="388.3" y="407.4" width="8.8" height="36.8"/><rect x="721.7" y="407.4" width="8.8" height="36.8"/><rect x="730.5" y="407.4" width="8.8" height="36.8"/><rect x="739.2" y="407.4" width="8.8" height="36.8"/><rect x="748.0" y="407.4" width="8.8" height="36.8"/><rect x="379.6" y="407.4" width="8.8" height="36.8"/><rect x="388.3" y="407.4" width="8.8" height="36.8"/><rect x="405.9" y="407.4" width="8.8" height="36.8"/><rect x="423.4" y="407.4" width="8.8" height="36.8"/><rect x="598.9" y="407.4" width="8.8" height="36.8"/><rect x="616.4" y="407.4" width="8.8" height="36.8"/><rect x="651.5" y="407.4" width="8.8" height="36.8"/><rect x="660.3" y="407.4" width="8.8" height="36.8"/><rect x="669.1" y="407.4" width="8.8" height="36.8"/><rect x="677.8" y="407.4" width="8.8" height="36.8"/><rect x="686.6" y="407.4" width="8.8" height="36.8"/><rect x="370.8" y="407.4" width="8.8" height="36.8"/><rect x="379.6" y="407.4" width="8.8" height="36.8"/><rect x="388.3" y="407.4" width="8.8" height="36.8"/><rect x="397.1" y="407.4" width="8.8" height="36.8"/><rect x="616.4" y="407.4" width="8.8" height="36.8"/><rect x="660.3" y="407.4" width="8.8" height="36.8"/><rect x="677.8" y="407.4" width="8.8" height="36.8"/><rect x="686.6" y="407.4" width="8.8" height="36.8"/><rect x="695.4" y="407.4" width="8.8" height="36.8"/><rect x="704.2" y="407.4" width="8.8" height="36.8"/><rect x="712.9" y="407.4" width="8.8" height="36.8"/><rect x="335.7" y="407.4" width="8.8" height="36.8"/><rect x="765.6" y="407.4" width="8.8" height="36.8"/><rect x="783.1" y="407.4" width="8.8" height="36.8"/><rect x="791.9" y="407.4" width="8.8" height="36.8"/><rect x="800.7" y="407.4" width="8.8" height="36.8"/><rect x="809.4" y="407.4" width="8.8" height="36.8"/><rect x="835.7" y="407.4" width="8.8" height="36.8"/><rect x="853.3" y="407.4" width="8.8" height="36.8"/><rect x="862.1" y="407.4" width="8.8" height="36.8"/><rect x="879.6" y="407.4" width="8.8" height="36.8"/><rect x="905.9" y="407.4" width="8.8" height="36.8"/><rect x="914.7" y="407.4" width="8.8" height="36.8"/><rect x="335.7" y="407.4" width="8.8" height="32.7"/><rect x="344.5" y="407.4" width="8.8" height="32.7"/><rect x="730.5" y="407.4" width="8.8" height="32.7"/><rect x="739.2" y="407.4" width="8.8" height="32.7"/><rect x="774.3" y="407.4" width="8.8" height="32.7"/><rect x="783.1" y="407.4" width="8.8" height="32.7"/><rect x="791.9" y="407.4" width="8.8" height="32.7"/><rect x="800.7" y="407.4" width="8.8" height="32.7"/><rect x="809.4" y="407.4" width="8.8" height="32.7"/><rect x="827.0" y="407.4" width="8.8" height="32.7"/><rect x="835.7" y="407.4" width="8.8" height="32.7"/><rect x="862.1" y="407.4" width="8.8" height="32.7"/><rect x="870.8" y="407.4" width="8.8" height="32.7"/><rect x="441.0" y="407.4" width="8.8" height="32.7"/><rect x="449.8" y="407.4" width="8.8" height="32.7"/><rect x="467.3" y="407.4" width="8.8" height="32.7"/><rect x="502.4" y="407.4" width="8.8" height="32.7"/><rect x="511.2" y="407.4" width="8.8" height="32.7"/><rect x="519.9" y="407.4" width="8.8" height="32.7"/><rect x="528.7" y="407.4" width="8.8" height="32.7"/><rect x="537.5" y="407.4" width="8.8" height="32.7"/><rect x="546.3" y="407.4" width="8.8" height="32.7"/><rect x="555.0" y="407.4" width="8.8" height="32.7"/><rect x="563.8" y="407.4" width="8.8" height="32.7"/><rect x="572.6" y="407.4" width="8.8" height="32.7"/><rect x="581.3" y="407.4" width="8.8" height="32.7"/><rect x="590.1" y="407.4" width="8.8" height="32.7"/><rect x="598.9" y="407.4" width="8.8" height="32.7"/><rect x="607.7" y="407.4" width="8.8" height="32.7"/><rect x="405.9" y="407.4" width="8.8" height="32.7"/><rect x="414.7" y="407.4" width="8.8" height="32.7"/><rect x="423.4" y="407.4" width="8.8" height="32.7"/><rect x="432.2" y="407.4" width="8.8" height="32.7"/><rect x="555.0" y="407.4" width="8.8" height="32.7"/><rect x="598.9" y="407.4" width="8.8" height="32.7"/><rect x="607.7" y="407.4" width="8.8" height="32.7"/><rect x="616.4" y="407.4" width="8.8" height="32.7"/><rect x="642.8" y="407.4" width="8.8" height="32.7"/><rect x="660.3" y="407.4" width="8.8" height="32.7"/><rect x="677.8" y="407.4" width="8.8" height="32.7"/><rect x="335.7" y="407.4" width="8.8" height="32.7"/><rect x="344.5" y="407.4" width="8.8" height="32.7"/><rect x="362.0" y="407.4" width="8.8" height="32.7"/><rect x="704.2" y="407.4" width="8.8" height="32.7"/><rect x="712.9" y="407.4" width="8.8" height="32.7"/><rect x="756.8" y="407.4" width="8.8" height="32.7"/><rect x="765.6" y="407.4" width="8.8" height="32.7"/><rect x="774.3" y="407.4" width="8.8" height="32.7"/><rect x="783.1" y="407.4" width="8.8" height="32.7"/><rect x="800.7" y="407.4" width="8.8" height="32.7"/><rect x="809.4" y="407.4" width="8.8" height="32.7"/><rect x="827.0" y="407.4" width="8.8" height="32.7"/><rect x="370.8" y="407.4" width="8.8" height="32.7"/><rect x="695.4" y="407.4" width="8.8" height="32.7"/><rect x="704.2" y="407.4" width="8.8" height="32.7"/><rect x="721.7" y="407.4" width="8.8" height="32.7"/><rect x="730.5" y="407.4" width="8.8" height="32.7"/><rect x="739.2" y="407.4" width="8.8" height="32.7"/><rect x="765.6" y="407.4" width="8.8" height="32.7"/><rect x="774.3" y="407.4" width="8.8" height="32.7"/><rect x="353.3" y="407.4" width="8.8" height="32.7"/><rect x="362.0" y="407.4" width="8.8" height="32.7"/><rect x="721.7" y="407.4" width="8.8" height="32.7"/><rect x="730.5" y="407.4" width="8.8" height="32.7"/><rect x="739.2" y="407.4" width="8.8" height="32.7"/><rect x="748.0" y="407.4" width="8.8" height="32.7"/><rect x="756.8" y="407.4" width="8.8" height="32.7"/><rect x="765.6" y="407.4" width="8.8" height="32.7"/><rect x="783.1" y="407.4" width="8.8" height="32.7"/><rect x="809.4" y="407.4" width="8.8" height="32.7"/><rect x="309.4" y="407.4" width="8.8" height="32.7"/><rect x="318.2" y="407.4" width="8.8" height="32.7"/><rect x="326.9" y="407.4" width="8.8" height="32.7"/><rect x="844.5" y="407.4" width="8.8" height="32.7"/><rect x="870.8" y="407.4" width="8.8" height="32.7"/><rect x="888.4" y="407.4" width="8.8" height="32.7"/><rect x="897.2" y="407.4" width="8.8" height="32.7"/><rect x="923.5" y="407.4" width="8.8" height="32.7"/><rect x="932.2" y="407.4" width="8.8" height="32.7"/><rect x="941.0" y="407.4" width="8.8" height="32.7"/><rect x="949.8" y="407.4" width="8.8" height="32.7"/><rect x="958.6" y="407.4" width="8.8" height="32.7"/><rect x="326.9" y="407.4" width="8.8" height="28.6"/><rect x="818.2" y="407.4" width="8.8" height="28.6"/><rect x="844.5" y="407.4" width="8.8" height="28.6"/><rect x="853.3" y="407.4" width="8.8" height="28.6"/><rect x="879.6" y="407.4" width="8.8" height="28.6"/><rect x="888.4" y="407.4" width="8.8" height="28.6"/><rect x="897.2" y="407.4" width="8.8" height="28.6"/><rect x="905.9" y="407.4" width="8.8" height="28.6"/><rect x="914.7" y="407.4" width="8.8" height="28.6"/><rect x="932.2" y="407.4" width="8.8" height="28.6"/><rect x="958.6" y="407.4" width="8.8" height="28.6"/><rect x="397.1" y="407.4" width="8.8" height="28.6"/><rect x="414.7" y="407.4" width="8.8" height="28.6"/><rect x="423.4" y="407.4" width="8.8" height="28.6"/><rect x="432.2" y="407.4" width="8.8" height="28.6"/><rect x="616.4" y="407.4" width="8.8" height="28.6"/><rect x="625.2" y="407.4" width="8.8" height="28.6"/><rect x="651.5" y="407.4" width="8.8" height="28.6"/><rect x="353.3" y="407.4" width="8.8" height="28.6"/><rect x="370.8" y="407.4" width="8.8" height="28.6"/><rect x="379.6" y="407.4" width="8.8" height="28.6"/><rect x="388.3" y="407.4" width="8.8" height="28.6"/><rect x="397.1" y="407.4" width="8.8" height="28.6"/><rect x="634.0" y="407.4" width="8.8" height="28.6"/><rect x="651.5" y="407.4" width="8.8" height="28.6"/><rect x="669.1" y="407.4" width="8.8" height="28.6"/><rect x="686.6" y="407.4" width="8.8" height="28.6"/><rect x="695.4" y="407.4" width="8.8" height="28.6"/><rect x="712.9" y="407.4" width="8.8" height="28.6"/><rect x="721.7" y="407.4" width="8.8" height="28.6"/><rect x="730.5" y="407.4" width="8.8" height="28.6"/><rect x="739.2" y="407.4" width="8.8" height="28.6"/><rect x="318.2" y="407.4" width="8.8" height="28.6"/><rect x="326.9" y="407.4" width="8.8" height="28.6"/><rect x="791.9" y="407.4" width="8.8" height="28.6"/><rect x="818.2" y="407.4" width="8.8" height="28.6"/><rect x="835.7" y="407.4" width="8.8" height="28.6"/><rect x="844.5" y="407.4" width="8.8" height="28.6"/><rect x="853.3" y="407.4" width="8.8" height="28.6"/><rect x="862.1" y="407.4" width="8.8" height="28.6"/><rect x="870.8" y="407.4" width="8.8" height="28.6"/><rect x="879.6" y="407.4" width="8.8" height="28.6"/><rect x="888.4" y="407.4" width="8.8" height="28.6"/><rect x="897.2" y="407.4" width="8.8" height="28.6"/><rect x="905.9" y="407.4" width="8.8" height="28.6"/><rect x="914.7" y="407.4" width="8.8" height="28.6"/><rect x="923.5" y="407.4" width="8.8" height="28.6"/><rect x="932.2" y="407.4" width="8.8" height="28.6"/><rect x="941.0" y="407.4" width="8.8" height="28.6"/><rect x="344.5" y="407.4" width="8.8" height="28.6"/><rect x="353.3" y="407.4" width="8.8" height="28.6"/><rect x="362.0" y="407.4" width="8.8" height="28.6"/><rect x="712.9" y="407.4" width="8.8" height="28.6"/><rect x="748.0" y="407.4" width="8.8" height="28.6"/><rect x="756.8" y="407.4" width="8.8" height="28.6"/><rect x="783.1" y="407.4" width="8.8" height="28.6"/><rect x="791.9" y="407.4" width="8.8" height="28.6"/><rect x="800.7" y="407.4" width="8.8" height="28.6"/><rect x="809.4" y="407.4" width="8.8" height="28.6"/><rect x="818.2" y="407.4" width="8.8" height="28.6"/><rect x="835.7" y="407.4" width="8.8" height="28.6"/><rect x="844.5" y="407.4" width="8.8" height="28.6"/><rect x="853.3" y="407.4" width="8.8" height="28.6"/><rect x="335.7" y="407.4" width="8.8" height="28.6"/><rect x="344.5" y="407.4" width="8.8" height="28.6"/><rect x="774.3" y="407.4" width="8.8" height="28.6"/><rect x="791.9" y="407.4" width="8.8" height="28.6"/><rect x="800.7" y="407.4" width="8.8" height="28.6"/><rect x="818.2" y="407.4" width="8.8" height="28.6"/><rect x="827.0" y="407.4" width="8.8" height="28.6"/><rect x="835.7" y="407.4" width="8.8" height="28.6"/><rect x="844.5" y="407.4" width="8.8" height="28.6"/><rect x="853.3" y="407.4" width="8.8" height="28.6"/><rect x="870.8" y="407.4" width="8.8" height="28.6"/><rect x="888.4" y="407.4" width="8.8" height="28.6"/><rect x="897.2" y="407.4" width="8.8" height="28.6"/><rect x="291.9" y="407.4" width="8.8" height="28.6"/><rect x="300.6" y="407.4" width="8.8" height="28.6"/><rect x="967.3" y="407.4" width="8.8" height="28.6"/><rect x="976.1" y="407.4" width="8.8" height="28.6"/><rect x="984.9" y="407.4" width="8.8" height="28.6"/><rect x="993.6" y="407.4" width="8.8" height="28.6"/><rect x="1002.4" y="407.4" width="8.8" height="28.6"/><rect x="1011.2" y="407.4" width="8.8" height="28.6"/><rect x="1020.0" y="407.4" width="8.8" height="28.6"/><rect x="300.6" y="407.4" width="8.8" height="24.5"/><rect x="309.4" y="407.4" width="8.8" height="24.5"/><rect x="318.2" y="407.4" width="8.8" height="24.5"/><rect x="923.5" y="407.4" width="8.8" height="24.5"/><rect x="941.0" y="407.4" width="8.8" height="24.5"/><rect x="949.8" y="407.4" width="8.8" height="24.5"/><rect x="967.3" y="407.4" width="8.8" height="24.5"/><rect x="976.1" y="407.4" width="8.8" height="24.5"/><rect x="984.9" y="407.4" width="8.8" height="24.5"/><rect x="993.6" y="407.4" width="8.8" height="24.5"/><rect x="1002.4" y="407.4" width="8.8" height="24.5"/><rect x="1011.2" y="407.4" width="8.8" height="24.5"/><rect x="344.5" y="407.4" width="8.8" height="24.5"/><rect x="362.0" y="407.4" width="8.8" height="24.5"/><rect x="370.8" y="407.4" width="8.8" height="24.5"/><rect x="379.6" y="407.4" width="8.8" height="24.5"/><rect x="388.3" y="407.4" width="8.8" height="24.5"/><rect x="405.9" y="407.4" width="8.8" height="24.5"/><rect x="634.0" y="407.4" width="8.8" height="24.5"/><rect x="642.8" y="407.4" width="8.8" height="24.5"/><rect x="660.3" y="407.4" width="8.8" height="24.5"/><rect x="669.1" y="407.4" width="8.8" height="24.5"/><rect x="677.8" y="407.4" width="8.8" height="24.5"/><rect x="686.6" y="407.4" width="8.8" height="24.5"/><rect x="695.4" y="407.4" width="8.8" height="24.5"/><rect x="704.2" y="407.4" width="8.8" height="24.5"/><rect x="712.9" y="407.4" width="8.8" height="24.5"/><rect x="721.7" y="407.4" width="8.8" height="24.5"/><rect x="730.5" y="407.4" width="8.8" height="24.5"/><rect x="748.0" y="407.4" width="8.8" height="24.5"/><rect x="765.6" y="407.4" width="8.8" height="24.5"/><rect x="335.7" y="407.4" width="8.8" height="24.5"/><rect x="362.0" y="407.4" width="8.8" height="24.5"/><rect x="704.2" y="407.4" width="8.8" height="24.5"/><rect x="748.0" y="407.4" width="8.8" height="24.5"/><rect x="756.8" y="407.4" width="8.8" height="24.5"/><rect x="765.6" y="407.4" width="8.8" height="24.5"/><rect x="774.3" y="407.4" width="8.8" height="24.5"/><rect x="783.1" y="407.4" width="8.8" height="24.5"/><rect x="791.9" y="407.4" width="8.8" height="24.5"/><rect x="800.7" y="407.4" width="8.8" height="24.5"/><rect x="818.2" y="407.4" width="8.8" height="24.5"/><rect x="827.0" y="407.4" width="8.8" height="24.5"/><rect x="844.5" y="407.4" width="8.8" height="24.5"/><rect x="853.3" y="407.4" width="8.8" height="24.5"/><rect x="300.6" y="407.4" width="8.8" height="24.5"/><rect x="309.4" y="407.4" width="8.8" height="24.5"/><rect x="949.8" y="407.4" width="8.8" height="24.5"/><rect x="958.6" y="407.4" width="8.8" height="24.5"/><rect x="967.3" y="407.4" width="8.8" height="24.5"/><rect x="976.1" y="407.4" width="8.8" height="24.5"/><rect x="1002.4" y="407.4" width="8.8" height="24.5"/><rect x="1020.0" y="407.4" width="8.8" height="24.5"/><rect x="318.2" y="407.4" width="8.8" height="24.5"/><rect x="326.9" y="407.4" width="8.8" height="24.5"/><rect x="335.7" y="407.4" width="8.8" height="24.5"/><rect x="827.0" y="407.4" width="8.8" height="24.5"/><rect x="862.1" y="407.4" width="8.8" height="24.5"/><rect x="870.8" y="407.4" width="8.8" height="24.5"/><rect x="879.6" y="407.4" width="8.8" height="24.5"/><rect x="888.4" y="407.4" width="8.8" height="24.5"/><rect x="897.2" y="407.4" width="8.8" height="24.5"/><rect x="905.9" y="407.4" width="8.8" height="24.5"/><rect x="914.7" y="407.4" width="8.8" height="24.5"/><rect x="923.5" y="407.4" width="8.8" height="24.5"/><rect x="932.2" y="407.4" width="8.8" height="24.5"/><rect x="941.0" y="407.4" width="8.8" height="24.5"/><rect x="949.8" y="407.4" width="8.8" height="24.5"/><rect x="967.3" y="407.4" width="8.8" height="24.5"/><rect x="318.2" y="407.4" width="8.8" height="24.5"/><rect x="326.9" y="407.4" width="8.8" height="24.5"/><rect x="862.1" y="407.4" width="8.8" height="24.5"/><rect x="879.6" y="407.4" width="8.8" height="24.5"/><rect x="905.9" y="407.4" width="8.8" height="24.5"/><rect x="914.7" y="407.4" width="8.8" height="24.5"/><rect x="923.5" y="407.4" width="8.8" height="24.5"/><rect x="932.2" y="407.4" width="8.8" height="24.5"/><rect x="941.0" y="407.4" width="8.8" height="24.5"/><rect x="949.8" y="407.4" width="8.8" height="24.5"/><rect x="958.6" y="407.4" width="8.8" height="24.5"/><rect x="976.1" y="407.4" width="8.8" height="24.5"/><rect x="1002.4" y="407.4" width="8.8" height="24.5"/><rect x="283.1" y="407.4" width="8.8" height="24.5"/><rect x="1028.7" y="407.4" width="8.8" height="24.5"/><rect x="1037.5" y="407.4" width="8.8" height="24.5"/><rect x="1046.3" y="407.4" width="8.8" height="24.5"/><rect x="1055.1" y="407.4" width="8.8" height="24.5"/><rect x="1063.8" y="407.4" width="8.8" height="24.5"/><rect x="1072.6" y="407.4" width="8.8" height="24.5"/><rect x="1081.4" y="407.4" width="8.8" height="24.5"/><rect x="1090.1" y="407.4" width="8.8" height="24.5"/><rect x="1098.9" y="407.4" width="8.8" height="24.5"/><rect x="283.1" y="407.4" width="8.8" height="20.4"/><rect x="291.9" y="407.4" width="8.8" height="20.4"/><rect x="1020.0" y="407.4" width="8.8" height="20.4"/><rect x="1028.7" y="407.4" width="8.8" height="20.4"/><rect x="1037.5" y="407.4" width="8.8" height="20.4"/><rect x="1046.3" y="407.4" width="8.8" height="20.4"/><rect x="1055.1" y="407.4" width="8.8" height="20.4"/><rect x="1063.8" y="407.4" width="8.8" height="20.4"/><rect x="1072.6" y="407.4" width="8.8" height="20.4"/><rect x="1081.4" y="407.4" width="8.8" height="20.4"/><rect x="1098.9" y="407.4" width="8.8" height="20.4"/><rect x="1107.7" y="407.4" width="8.8" height="20.4"/><rect x="326.9" y="407.4" width="8.8" height="20.4"/><rect x="335.7" y="407.4" width="8.8" height="20.4"/><rect x="353.3" y="407.4" width="8.8" height="20.4"/><rect x="739.2" y="407.4" width="8.8" height="20.4"/><rect x="756.8" y="407.4" width="8.8" height="20.4"/><rect x="774.3" y="407.4" width="8.8" height="20.4"/><rect x="783.1" y="407.4" width="8.8" height="20.4"/><rect x="791.9" y="407.4" width="8.8" height="20.4"/><rect x="800.7" y="407.4" width="8.8" height="20.4"/><rect x="809.4" y="407.4" width="8.8" height="20.4"/><rect x="818.2" y="407.4" width="8.8" height="20.4"/><rect x="827.0" y="407.4" width="8.8" height="20.4"/><rect x="835.7" y="407.4" width="8.8" height="20.4"/><rect x="844.5" y="407.4" width="8.8" height="20.4"/><rect x="853.3" y="407.4" width="8.8" height="20.4"/><rect x="862.1" y="407.4" width="8.8" height="20.4"/><rect x="897.2" y="407.4" width="8.8" height="20.4"/><rect x="905.9" y="407.4" width="8.8" height="20.4"/><rect x="923.5" y="407.4" width="8.8" height="20.4"/><rect x="932.2" y="407.4" width="8.8" height="20.4"/><rect x="318.2" y="407.4" width="8.8" height="20.4"/><rect x="326.9" y="407.4" width="8.8" height="20.4"/><rect x="344.5" y="407.4" width="8.8" height="20.4"/><rect x="809.4" y="407.4" width="8.8" height="20.4"/><rect x="835.7" y="407.4" width="8.8" height="20.4"/><rect x="862.1" y="407.4" width="8.8" height="20.4"/><rect x="870.8" y="407.4" width="8.8" height="20.4"/><rect x="879.6" y="407.4" width="8.8" height="20.4"/><rect x="888.4" y="407.4" width="8.8" height="20.4"/><rect x="897.2" y="407.4" width="8.8" height="20.4"/><rect x="905.9" y="407.4" width="8.8" height="20.4"/><rect x="914.7" y="407.4" width="8.8" height="20.4"/><rect x="923.5" y="407.4" width="8.8" height="20.4"/><rect x="932.2" y="407.4" width="8.8" height="20.4"/><rect x="941.0" y="407.4" width="8.8" height="20.4"/><rect x="949.8" y="407.4" width="8.8" height="20.4"/><rect x="958.6" y="407.4" width="8.8" height="20.4"/><rect x="967.3" y="407.4" width="8.8" height="20.4"/><rect x="976.1" y="407.4" width="8.8" height="20.4"/><rect x="274.3" y="407.4" width="8.8" height="20.4"/><rect x="283.1" y="407.4" width="8.8" height="20.4"/><rect x="291.9" y="407.4" width="8.8" height="20.4"/><rect x="984.9" y="407.4" width="8.8" height="20.4"/><rect x="993.6" y="407.4" width="8.8" height="20.4"/><rect x="1011.2" y="407.4" width="8.8" height="20.4"/><rect x="1028.7" y="407.4" width="8.8" height="20.4"/><rect x="1037.5" y="407.4" width="8.8" height="20.4"/><rect x="1046.3" y="407.4" width="8.8" height="20.4"/><rect x="1055.1" y="407.4" width="8.8" height="20.4"/><rect x="1063.8" y="407.4" width="8.8" height="20.4"/><rect x="1072.6" y="407.4" width="8.8" height="20.4"/><rect x="1081.4" y="407.4" width="8.8" height="20.4"/><rect x="1090.1" y="407.4" width="8.8" height="20.4"/><rect x="300.6" y="407.4" width="8.8" height="20.4"/><rect x="309.4" y="407.4" width="8.8" height="20.4"/><rect x="958.6" y="407.4" width="8.8" height="20.4"/><rect x="976.1" y="407.4" width="8.8" height="20.4"/><rect x="984.9" y="407.4" width="8.8" height="20.4"/><rect x="993.6" y="407.4" width="8.8" height="20.4"/><rect x="1002.4" y="407.4" width="8.8" height="20.4"/><rect x="1011.2" y="407.4" width="8.8" height="20.4"/><rect x="1020.0" y="407.4" width="8.8" height="20.4"/><rect x="1037.5" y="407.4" width="8.8" height="20.4"/><rect x="1055.1" y="407.4" width="8.8" height="20.4"/><rect x="1072.6" y="407.4" width="8.8" height="20.4"/><rect x="291.9" y="407.4" width="8.8" height="20.4"/><rect x="300.6" y="407.4" width="8.8" height="20.4"/><rect x="309.4" y="407.4" width="8.8" height="20.4"/><rect x="967.3" y="407.4" width="8.8" height="20.4"/><rect x="984.9" y="407.4" width="8.8" height="20.4"/><rect x="993.6" y="407.4" width="8.8" height="20.4"/><rect x="1011.2" y="407.4" width="8.8" height="20.4"/><rect x="1020.0" y="407.4" width="8.8" height="20.4"/><rect x="1028.7" y="407.4" width="8.8" height="20.4"/><rect x="1037.5" y="407.4" width="8.8" height="20.4"/><rect x="1046.3" y="407.4" width="8.8" height="20.4"/><rect x="1055.1" y="407.4" width="8.8" height="20.4"/><rect x="1063.8" y="407.4" width="8.8" height="20.4"/><rect x="1081.4" y="407.4" width="8.8" height="20.4"/><rect x="265.5" y="407.4" width="8.8" height="20.4"/><rect x="274.3" y="407.4" width="8.8" height="20.4"/><rect x="1107.7" y="407.4" width="8.8" height="20.4"/><rect x="1116.5" y="407.4" width="8.8" height="20.4"/><rect x="1125.2" y="407.4" width="8.8" height="20.4"/><rect x="1134.0" y="407.4" width="8.8" height="20.4"/><rect x="1142.8" y="407.4" width="8.8" height="20.4"/><rect x="1160.3" y="407.4" width="8.8" height="20.4"/><rect x="256.8" y="407.4" width="8.8" height="16.4"/><rect x="265.5" y="407.4" width="8.8" height="16.4"/><rect x="274.3" y="407.4" width="8.8" height="16.4"/><rect x="1090.1" y="407.4" width="8.8" height="16.4"/><rect x="1116.5" y="407.4" width="8.8" height="16.4"/><rect x="1125.2" y="407.4" width="8.8" height="16.4"/><rect x="1134.0" y="407.4" width="8.8" height="16.4"/><rect x="1142.8" y="407.4" width="8.8" height="16.4"/><rect x="1151.6" y="407.4" width="8.8" height="16.4"/><rect x="1160.3" y="407.4" width="8.8" height="16.4"/><rect x="300.6" y="407.4" width="8.8" height="16.4"/><rect x="309.4" y="407.4" width="8.8" height="16.4"/><rect x="318.2" y="407.4" width="8.8" height="16.4"/><rect x="870.8" y="407.4" width="8.8" height="16.4"/><rect x="879.6" y="407.4" width="8.8" height="16.4"/><rect x="888.4" y="407.4" width="8.8" height="16.4"/><rect x="914.7" y="407.4" width="8.8" height="16.4"/><rect x="941.0" y="407.4" width="8.8" height="16.4"/><rect x="949.8" y="407.4" width="8.8" height="16.4"/><rect x="958.6" y="407.4" width="8.8" height="16.4"/><rect x="967.3" y="407.4" width="8.8" height="16.4"/><rect x="976.1" y="407.4" width="8.8" height="16.4"/><rect x="984.9" y="407.4" width="8.8" height="16.4"/><rect x="993.6" y="407.4" width="8.8" height="16.4"/><rect x="1002.4" y="407.4" width="8.8" height="16.4"/><rect x="1046.3" y="407.4" width="8.8" height="16.4"/><rect x="1055.1" y="407.4" width="8.8" height="16.4"/><rect x="283.1" y="407.4" width="8.8" height="16.4"/><rect x="291.9" y="407.4" width="8.8" height="16.4"/><rect x="300.6" y="407.4" width="8.8" height="16.4"/><rect x="309.4" y="407.4" width="8.8" height="16.4"/><rect x="984.9" y="407.4" width="8.8" height="16.4"/><rect x="993.6" y="407.4" width="8.8" height="16.4"/><rect x="1002.4" y="407.4" width="8.8" height="16.4"/><rect x="1011.2" y="407.4" width="8.8" height="16.4"/><rect x="1020.0" y="407.4" width="8.8" height="16.4"/><rect x="1028.7" y="407.4" width="8.8" height="16.4"/><rect x="1037.5" y="407.4" width="8.8" height="16.4"/><rect x="1046.3" y="407.4" width="8.8" height="16.4"/><rect x="1081.4" y="407.4" width="8.8" height="16.4"/><rect x="1090.1" y="407.4" width="8.8" height="16.4"/><rect x="256.8" y="407.4" width="8.8" height="16.4"/><rect x="265.5" y="407.4" width="8.8" height="16.4"/><rect x="1098.9" y="407.4" width="8.8" height="16.4"/><rect x="1107.7" y="407.4" width="8.8" height="16.4"/><rect x="1116.5" y="407.4" width="8.8" height="16.4"/><rect x="1125.2" y="407.4" width="8.8" height="16.4"/><rect x="1134.0" y="407.4" width="8.8" height="16.4"/><rect x="1142.8" y="407.4" width="8.8" height="16.4"/><rect x="1151.6" y="407.4" width="8.8" height="16.4"/><rect x="1160.3" y="407.4" width="8.8" height="16.4"/><rect x="265.5" y="407.4" width="8.8" height="16.4"/><rect x="274.3" y="407.4" width="8.8" height="16.4"/><rect x="283.1" y="407.4" width="8.8" height="16.4"/><rect x="291.9" y="407.4" width="8.8" height="16.4"/><rect x="1028.7" y="407.4" width="8.8" height="16.4"/><rect x="1046.3" y="407.4" width="8.8" height="16.4"/><rect x="1063.8" y="407.4" width="8.8" height="16.4"/><rect x="1081.4" y="407.4" width="8.8" height="16.4"/><rect x="1090.1" y="407.4" width="8.8" height="16.4"/><rect x="1098.9" y="407.4" width="8.8" height="16.4"/><rect x="1107.7" y="407.4" width="8.8" height="16.4"/><rect x="1116.5" y="407.4" width="8.8" height="16.4"/><rect x="1125.2" y="407.4" width="8.8" height="16.4"/><rect x="1134.0" y="407.4" width="8.8" height="16.4"/><rect x="265.5" y="407.4" width="8.8" height="16.4"/><rect x="274.3" y="407.4" width="8.8" height="16.4"/><rect x="283.1" y="407.4" width="8.8" height="16.4"/><rect x="1072.6" y="407.4" width="8.8" height="16.4"/><rect x="1090.1" y="407.4" width="8.8" height="16.4"/><rect x="1098.9" y="407.4" width="8.8" height="16.4"/><rect x="1107.7" y="407.4" width="8.8" height="16.4"/><rect x="1116.5" y="407.4" width="8.8" height="16.4"/><rect x="1125.2" y="407.4" width="8.8" height="16.4"/><rect x="1134.0" y="407.4" width="8.8" height="16.4"/><rect x="1142.8" y="407.4" width="8.8" height="16.4"/><rect x="1160.3" y="407.4" width="8.8" height="16.4"/><rect x="239.2" y="407.4" width="8.8" height="16.4"/><rect x="248.0" y="407.4" width="8.8" height="16.4"/><rect x="256.8" y="407.4" width="8.8" height="16.4"/><rect x="1151.6" y="407.4" width="8.8" height="16.4"/><rect x="1169.1" y="407.4" width="8.8" height="16.4"/><rect x="221.7" y="407.4" width="8.8" height="12.3"/><rect x="230.4" y="407.4" width="8.8" height="12.3"/><rect x="239.2" y="407.4" width="8.8" height="12.3"/><rect x="248.0" y="407.4" width="8.8" height="12.3"/><rect x="1169.1" y="407.4" width="8.8" height="12.3"/><rect x="1177.9" y="407.4" width="8.8" height="12.3"/><rect x="265.5" y="407.4" width="8.8" height="12.3"/><rect x="274.3" y="407.4" width="8.8" height="12.3"/><rect x="283.1" y="407.4" width="8.8" height="12.3"/><rect x="291.9" y="407.4" width="8.8" height="12.3"/><rect x="1011.2" y="407.4" width="8.8" height="12.3"/><rect x="1020.0" y="407.4" width="8.8" height="12.3"/><rect x="1028.7" y="407.4" width="8.8" height="12.3"/><rect x="1037.5" y="407.4" width="8.8" height="12.3"/><rect x="1063.8" y="407.4" width="8.8" height="12.3"/><rect x="1072.6" y="407.4" width="8.8" height="12.3"/><rect x="1081.4" y="407.4" width="8.8" height="12.3"/><rect x="1090.1" y="407.4" width="8.8" height="12.3"/><rect x="1098.9" y="407.4" width="8.8" height="12.3"/><rect x="1107.7" y="407.4" width="8.8" height="12.3"/><rect x="1116.5" y="407.4" width="8.8" height="12.3"/><rect x="1125.2" y="407.4" width="8.8" height="12.3"/><rect x="1134.0" y="407.4" width="8.8" height="12.3"/><rect x="1142.8" y="407.4" width="8.8" height="12.3"/><rect x="248.0" y="407.4" width="8.8" height="12.3"/><rect x="256.8" y="407.4" width="8.8" height="12.3"/><rect x="265.5" y="407.4" width="8.8" height="12.3"/><rect x="274.3" y="407.4" width="8.8" height="12.3"/><rect x="1055.1" y="407.4" width="8.8" height="12.3"/><rect x="1063.8" y="407.4" width="8.8" height="12.3"/><rect x="1072.6" y="407.4" width="8.8" height="12.3"/><rect x="1098.9" y="407.4" width="8.8" height="12.3"/><rect x="1107.7" y="407.4" width="8.8" height="12.3"/><rect x="1116.5" y="407.4" width="8.8" height="12.3"/><rect x="1125.2" y="407.4" width="8.8" height="12.3"/><rect x="1134.0" y="407.4" width="8.8" height="12.3"/><rect x="1142.8" y="407.4" width="8.8" height="12.3"/><rect x="1151.6" y="407.4" width="8.8" height="12.3"/><rect x="1160.3" y="407.4" width="8.8" height="12.3"/><rect x="1169.1" y="407.4" width="8.8" height="12.3"/><rect x="221.7" y="407.4" width="8.8" height="12.3"/><rect x="230.4" y="407.4" width="8.8" height="12.3"/><rect x="239.2" y="407.4" width="8.8" height="12.3"/><rect x="248.0" y="407.4" width="8.8" height="12.3"/><rect x="1169.1" y="407.4" width="8.8" height="12.3"/><rect x="1177.9" y="407.4" width="8.8" height="12.3"/><rect x="230.4" y="407.4" width="8.8" height="12.3"/><rect x="239.2" y="407.4" width="8.8" height="12.3"/><rect x="248.0" y="407.4" width="8.8" height="12.3"/><rect x="256.8" y="407.4" width="8.8" height="12.3"/><rect x="1142.8" y="407.4" width="8.8" height="12.3"/><rect x="1151.6" y="407.4" width="8.8" height="12.3"/><rect x="1160.3" y="407.4" width="8.8" height="12.3"/><rect x="1169.1" y="407.4" width="8.8" height="12.3"/><rect x="1177.9" y="407.4" width="8.8" height="12.3"/><rect x="230.4" y="407.4" width="8.8" height="12.3"/><rect x="239.2" y="407.4" width="8.8" height="12.3"/><rect x="248.0" y="407.4" width="8.8" height="12.3"/><rect x="256.8" y="407.4" width="8.8" height="12.3"/><rect x="1151.6" y="407.4" width="8.8" height="12.3"/><rect x="1169.1" y="407.4" width="8.8" height="12.3"/><rect x="1177.9" y="407.4" width="8.8" height="12.3"/><rect x="212.9" y="407.4" width="8.8" height="12.3"/><rect x="221.7" y="407.4" width="8.8" height="12.3"/><rect x="230.4" y="407.4" width="8.8" height="12.3"/><rect x="1177.9" y="407.4" width="8.8" height="12.3"/><rect x="1186.6" y="407.4" width="8.8" height="12.3"/><rect x="186.6" y="407.4" width="8.8" height="8.2"/><rect x="195.4" y="407.4" width="8.8" height="8.2"/><rect x="204.1" y="407.4" width="8.8" height="8.2"/><rect x="212.9" y="407.4" width="8.8" height="8.2"/><rect x="1186.6" y="407.4" width="8.8" height="8.2"/><rect x="1195.4" y="407.4" width="8.8" height="8.2"/><rect x="212.9" y="407.4" width="8.8" height="8.2"/><rect x="221.7" y="407.4" width="8.8" height="8.2"/><rect x="230.4" y="407.4" width="8.8" height="8.2"/><rect x="239.2" y="407.4" width="8.8" height="8.2"/><rect x="248.0" y="407.4" width="8.8" height="8.2"/><rect x="256.8" y="407.4" width="8.8" height="8.2"/><rect x="1151.6" y="407.4" width="8.8" height="8.2"/><rect x="1160.3" y="407.4" width="8.8" height="8.2"/><rect x="1169.1" y="407.4" width="8.8" height="8.2"/><rect x="1177.9" y="407.4" width="8.8" height="8.2"/><rect x="204.1" y="407.4" width="8.8" height="8.2"/><rect x="212.9" y="407.4" width="8.8" height="8.2"/><rect x="221.7" y="407.4" width="8.8" height="8.2"/><rect x="230.4" y="407.4" width="8.8" height="8.2"/><rect x="239.2" y="407.4" width="8.8" height="8.2"/><rect x="1177.9" y="407.4" width="8.8" height="8.2"/><rect x="1186.6" y="407.4" width="8.8" height="8.2"/><rect x="186.6" y="407.4" width="8.8" height="8.2"/><rect x="195.4" y="407.4" width="8.8" height="8.2"/><rect x="204.1" y="407.4" width="8.8" height="8.2"/><rect x="212.9" y="407.4" width="8.8" height="8.2"/><rect x="1186.6" y="407.4" width="8.8" height="8.2"/><rect x="1195.4" y="407.4" width="8.8" height="8.2"/><rect x="204.1" y="407.4" width="8.8" height="8.2"/><rect x="212.9" y="407.4" width="8.8" height="8.2"/><rect x="221.7" y="407.4" width="8.8" height="8.2"/><rect x="1186.6" y="407.4" width="8.8" height="8.2"/><rect x="195.4" y="407.4" width="8.8" height="8.2"/><rect x="204.1" y="407.4" width="8.8" height="8.2"/><rect x="212.9" y="407.4" width="8.8" height="8.2"/><rect x="221.7" y="407.4" width="8.8" height="8.2"/><rect x="1186.6" y="407.4" width="8.8" height="8.2"/><rect x="177.8" y="407.4" width="8.8" height="8.2"/><rect x="186.6" y="407.4" width="8.8" height="8.2"/><rect x="195.4" y="407.4" width="8.8" height="8.2"/><rect x="204.1" y="407.4" width="8.8" height="8.2"/><rect x="1195.4" y="407.4" width="8.8" height="8.2"/><rect x="169.0" y="407.4" width="8.8" height="4.1"/><rect x="177.8" y="407.4" width="8.8" height="4.1"/><rect x="1204.2" y="407.4" width="8.8" height="4.1"/><rect x="195.4" y="407.4" width="8.8" height="4.1"/><rect x="204.1" y="407.4" width="8.8" height="4.1"/><rect x="1186.6" y="407.4" width="8.8" height="4.1"/><rect x="1195.4" y="407.4" width="8.8" height="4.1"/><rect x="186.6" y="407.4" width="8.8" height="4.1"/><rect x="195.4" y="407.4" width="8.8" height="4.1"/><rect x="1195.4" y="407.4" width="8.8" height="4.1"/><rect x="169.0" y="407.4" width="8.8" height="4.1"/><rect x="177.8" y="407.4" width="8.8" height="4.1"/><rect x="177.8" y="407.4" width="8.8" height="4.1"/><rect x="186.6" y="407.4" width="8.8" height="4.1"/><rect x="195.4" y="407.4" width="8.8" height="4.1"/><rect x="1195.4" y="407.4" width="8.8" height="4.1"/><rect x="177.8" y="407.4" width="8.8" height="4.1"/><rect x="186.6" y="407.4" width="8.8" height="4.1"/><rect x="1195.4" y="407.4" width="8.8" height="4.1"/><rect x="169.0" y="407.4" width="8.8" height="4.1"/><rect x="1204.2" y="407.4" width="8.8" height="4.1"/></g>
<line x1="81" y1="407.4" x2="2002" y2="407.4" stroke="#808080" stroke-width="2.8"/>
<line x1="291.8" y1="72" x2="291.8" y2="599" stroke="#000" stroke-width="2.1" stroke-dasharray="7.8 3.3"/>
<line x1="1695.0" y1="72" x2="1695.0" y2="599" stroke="#000" stroke-width="2.1" stroke-dasharray="7.8 3.3"/>
<line x1="876.3" y1="98.3" x2="915.8" y2="98.3" stroke="#87ceeb" stroke-width="2.5"/>
<line x1="876.3" y1="127.0" x2="915.8" y2="127.0" stroke="#ffa500" stroke-width="2.5"/>
<line x1="876.3" y1="155.7" x2="915.8" y2="155.7" stroke="#808080" stroke-width="2.5"/>
<line x1="876.3" y1="184.4" x2="915.8" y2="184.4" stroke="#000" stroke-width="2.5" stroke-dasharray="10.5 4.4"/>
<text x="929.40" y="105.06" font-size="20.5" text-anchor="start" textLength="130.90" lengthAdjust="spacingAndGlyphs">Treatment PS</text>
<text x="929.40" y="133.56" font-size="20.5" text-anchor="start" textLength="101.54" lengthAdjust="spacingAndGlyphs">Control PS</text>
<text x="930.40" y="162.06" font-size="20.5" text-anchor="start" textLength="277.77" lengthAdjust="spacingAndGlyphs">Weighted Pseudo Population</text>
<text x="928.40" y="190.56" font-size="20.5" text-anchor="start" textLength="114.66" lengthAdjust="spacingAndGlyphs">Extreme PS</text>
<text x="115.60" y="619.90" font-size="19.5" text-anchor="middle" textLength="29.98" lengthAdjust="spacingAndGlyphs">0.0</text>
<text x="466.50" y="619.90" font-size="19.5" text-anchor="middle" textLength="29.98" lengthAdjust="spacingAndGlyphs">0.2</text>
<text x="817.40" y="619.90" font-size="19.5" text-anchor="middle" textLength="29.98" lengthAdjust="spacingAndGlyphs">0.4</text>
<text x="1168.30" y="619.90" font-size="19.5" text-anchor="middle" textLength="29.98" lengthAdjust="spacingAndGlyphs">0.6</text>
<text x="1519.20" y="619.90" font-size="19.5" text-anchor="middle" textLength="29.98" lengthAdjust="spacingAndGlyphs">0.8</text>
<text x="1870.10" y="619.90" font-size="19.5" text-anchor="middle" textLength="29.98" lengthAdjust="spacingAndGlyphs">1.0</text>
<text x="75.60" y="577.80" font-size="19.5" text-anchor="end" textLength="39.59" lengthAdjust="spacingAndGlyphs">−20</text>
<text x="75.60" y="496.05" font-size="19.5" text-anchor="end" textLength="39.59" lengthAdjust="spacingAndGlyphs">−10</text>
<text x="75.60" y="414.30" font-size="19.5" text-anchor="end" textLength="11.93" lengthAdjust="spacingAndGlyphs">0</text>
<text x="75.60" y="332.55" font-size="19.5" text-anchor="end" textLength="23.87" lengthAdjust="spacingAndGlyphs">10</text>
<text x="75.60" y="250.80" font-size="19.5" text-anchor="end" textLength="23.87" lengthAdjust="spacingAndGlyphs">20</text>
<text x="75.60" y="169.05" font-size="19.5" text-anchor="end" textLength="23.87" lengthAdjust="spacingAndGlyphs">30</text>
<text x="75.60" y="87.30" font-size="19.5" text-anchor="end" textLength="23.87" lengthAdjust="spacingAndGlyphs">40</text>
<text x="675.20" y="32.00" font-size="29.4" text-anchor="start" textLength="724.41" lengthAdjust="spacingAndGlyphs">Weighted and Unweighted Draws from the Posterior</text>
<text x="840.60" y="63.85" font-size="29.4" text-anchor="start" textLength="420.35" lengthAdjust="spacingAndGlyphs">Propensity Scores Distribution</text>
<text x="948.40" y="644.90" font-size="22.0" text-anchor="start" textLength="186.35" lengthAdjust="spacingAndGlyphs">Propensity Scores</text>
<text transform="translate(25.60 336.60) rotate(-90)" font-size="22.0" text-anchor="middle" textLength="243.72" lengthAdjust="spacingAndGlyphs">Counts of Observations</text>
<rect x="81" y="724" width="1261" height="528" fill="#eeeeee"/>
<line x1="218.45" y1="724" x2="218.45" y2="1252" stroke="#fff" stroke-width="1.1"/>
<line x1="382.46" y1="724" x2="382.46" y2="1252" stroke="#fff" stroke-width="1.1"/>
<line x1="546.48" y1="724" x2="546.48" y2="1252" stroke="#fff" stroke-width="1.1"/>
<line x1="710.49" y1="724" x2="710.49" y2="1252" stroke="#fff" stroke-width="1.1"/>
<line x1="874.51" y1="724" x2="874.51" y2="1252" stroke="#fff" stroke-width="1.1"/>
<line x1="1038.52" y1="724" x2="1038.52" y2="1252" stroke="#fff" stroke-width="1.1"/>
<line x1="1202.54" y1="724" x2="1202.54" y2="1252" stroke="#fff" stroke-width="1.1"/>
<line x1="81" y1="1251.70" x2="1342" y2="1251.70" stroke="#fff" stroke-width="1.1"/>
<line x1="81" y1="1189.05" x2="1342" y2="1189.05" stroke="#fff" stroke-width="1.1"/>
<line x1="81" y1="1126.40" x2="1342" y2="1126.40" stroke="#fff" stroke-width="1.1"/>
<line x1="81" y1="1063.75" x2="1342" y2="1063.75" stroke="#fff" stroke-width="1.1"/>
<line x1="81" y1="1001.10" x2="1342" y2="1001.10" stroke="#fff" stroke-width="1.1"/>
<line x1="81" y1="938.45" x2="1342" y2="938.45" stroke="#fff" stroke-width="1.1"/>
<line x1="81" y1="875.80" x2="1342" y2="875.80" stroke="#fff" stroke-width="1.1"/>
<line x1="81" y1="813.15" x2="1342" y2="813.15" stroke="#fff" stroke-width="1.1"/>
<line x1="81" y1="750.50" x2="1342" y2="750.50" stroke="#fff" stroke-width="1.1"/>
<rect x="1147.40" y="1245.43" width="13.84" height="6.27" fill="#87ceeb" fill-opacity="0.6" stroke="#000" stroke-opacity="0.7" stroke-width="1.2"/>
<rect x="1161.24" y="1226.64" width="13.84" height="25.06" fill="#87ceeb" fill-opacity="0.6" stroke="#000" stroke-opacity="0.7" stroke-width="1.2"/>
<rect x="1175.08" y="1192.18" width="13.84" height="59.52" fill="#87ceeb" fill-opacity="0.6" stroke="#000" stroke-opacity="0.7" stroke-width="1.2"/>
<rect x="1188.92" y="1120.13" width="13.84" height="131.57" fill="#87ceeb" fill-opacity="0.6" stroke="#000" stroke-opacity="0.7" stroke-width="1.2"/>
<rect x="1202.76" y="960.38" width="13.84" height="291.32" fill="#87ceeb" fill-opacity="0.6" stroke="#000" stroke-opacity="0.7" stroke-width="1.2"/>
<rect x="1216.60" y="919.66" width="13.84" height="332.04" fill="#87ceeb" fill-opacity="0.6" stroke="#000" stroke-opacity="0.7" stroke-width="1.2"/>
<rect x="1230.44" y="897.73" width="13.84" height="353.97" fill="#87ceeb" fill-opacity="0.6" stroke="#000" stroke-opacity="0.7" stroke-width="1.2"/>
<rect x="1244.28" y="1019.90" width="13.84" height="231.80" fill="#87ceeb" fill-opacity="0.6" stroke="#000" stroke-opacity="0.7" stroke-width="1.2"/>
<rect x="1258.12" y="1163.99" width="13.84" height="87.71" fill="#87ceeb" fill-opacity="0.6" stroke="#000" stroke-opacity="0.7" stroke-width="1.2"/>
<rect x="1271.96" y="1204.71" width="13.84" height="46.99" fill="#87ceeb" fill-opacity="0.6" stroke="#000" stroke-opacity="0.7" stroke-width="1.2"/>
<rect x="139.00" y="1241.99" width="1.47" height="9.71" fill="#ffa500" fill-opacity="0.6" stroke="#000" stroke-opacity="0.8" stroke-width="1.0"/>
<rect x="140.47" y="1236.04" width="1.47" height="15.66" fill="#ffa500" fill-opacity="0.6" stroke="#000" stroke-opacity="0.8" stroke-width="1.0"/>
<rect x="141.94" y="1200.95" width="1.47" height="50.75" fill="#ffa500" fill-opacity="0.6" stroke="#000" stroke-opacity="0.8" stroke-width="1.0"/>
<rect x="143.41" y="1179.03" width="1.47" height="72.67" fill="#ffa500" fill-opacity="0.6" stroke="#000" stroke-opacity="0.8" stroke-width="1.0"/>
<rect x="144.88" y="1114.18" width="1.47" height="137.52" fill="#ffa500" fill-opacity="0.6" stroke="#000" stroke-opacity="0.8" stroke-width="1.0"/>
<rect x="146.35" y="953.49" width="1.47" height="298.21" fill="#ffa500" fill-opacity="0.6" stroke="#000" stroke-opacity="0.8" stroke-width="1.0"/>
<rect x="147.82" y="750.50" width="1.47" height="501.20" fill="#ffa500" fill-opacity="0.6" stroke="#000" stroke-opacity="0.8" stroke-width="1.0"/>
<rect x="149.29" y="925.29" width="1.47" height="326.41" fill="#ffa500" fill-opacity="0.6" stroke="#000" stroke-opacity="0.8" stroke-width="1.0"/>
<rect x="150.76" y="1123.27" width="1.47" height="128.43" fill="#ffa500" fill-opacity="0.6" stroke="#000" stroke-opacity="0.8" stroke-width="1.0"/>
<rect x="152.23" y="1222.88" width="1.47" height="28.82" fill="#ffa500" fill-opacity="0.6" stroke="#000" stroke-opacity="0.8" stroke-width="1.0"/>
<text x="217.65" y="1271.90" font-size="19.5" text-anchor="middle" textLength="29.98" lengthAdjust="spacingAndGlyphs">2.0</text>
<text x="381.66" y="1271.90" font-size="19.5" text-anchor="middle" textLength="29.98" lengthAdjust="spacingAndGlyphs">2.5</text>
<text x="545.68" y="1271.90" font-size="19.5" text-anchor="middle" textLength="29.98" lengthAdjust="spacingAndGlyphs">3.0</text>
<text x="709.69" y="1271.90" font-size="19.5" text-anchor="middle" textLength="29.98" lengthAdjust="spacingAndGlyphs">3.5</text>
<text x="873.71" y="1271.90" font-size="19.5" text-anchor="middle" textLength="29.98" lengthAdjust="spacingAndGlyphs">4.0</text>
<text x="1037.72" y="1271.90" font-size="19.5" text-anchor="middle" textLength="29.98" lengthAdjust="spacingAndGlyphs">4.5</text>
<text x="1201.74" y="1271.90" font-size="19.5" text-anchor="middle" textLength="29.98" lengthAdjust="spacingAndGlyphs">5.0</text>
<text x="75.60" y="1258.60" font-size="19.5" text-anchor="end" textLength="11.93" lengthAdjust="spacingAndGlyphs">0</text>
<text x="75.60" y="1195.95" font-size="19.5" text-anchor="end" textLength="23.87" lengthAdjust="spacingAndGlyphs">20</text>
<text x="75.60" y="1133.30" font-size="19.5" text-anchor="end" textLength="23.87" lengthAdjust="spacingAndGlyphs">40</text>
<text x="75.60" y="1070.65" font-size="19.5" text-anchor="end" textLength="23.87" lengthAdjust="spacingAndGlyphs">60</text>
<text x="75.60" y="1008.00" font-size="19.5" text-anchor="end" textLength="23.87" lengthAdjust="spacingAndGlyphs">80</text>
<text x="75.60" y="945.35" font-size="19.5" text-anchor="end" textLength="35.80" lengthAdjust="spacingAndGlyphs">100</text>
<text x="75.60" y="882.70" font-size="19.5" text-anchor="end" textLength="35.80" lengthAdjust="spacingAndGlyphs">120</text>
<text x="75.60" y="820.05" font-size="19.5" text-anchor="end" textLength="35.80" lengthAdjust="spacingAndGlyphs">140</text>
<text x="75.60" y="757.40" font-size="19.5" text-anchor="end" textLength="35.80" lengthAdjust="spacingAndGlyphs">160</text>
<text x="605.80" y="683.80" font-size="29.4" text-anchor="start" textLength="201.96" lengthAdjust="spacingAndGlyphs">The Outcomes</text>
<text x="393.80" y="716.80" font-size="29.4" text-anchor="start" textLength="642.35" lengthAdjust="spacingAndGlyphs">Under the doubly robust re-weighting scheme</text>
<text x="665.60" y="1297.70" font-size="22.0" text-anchor="start" textLength="90.81" lengthAdjust="spacingAndGlyphs">outcome</text>
<rect x="1203.4" y="743.3" width="39.4" height="14.2" fill="#87ceeb" fill-opacity="0.6" stroke="#000" stroke-opacity="0.6" stroke-width="1.2"/>
<rect x="1203.4" y="772.3" width="39.4" height="14.2" fill="#ffa500" fill-opacity="0.6" stroke="#000" stroke-opacity="0.6" stroke-width="1.2"/>
<text x="1258.60" y="757.90" font-size="20.5" text-anchor="start" textLength="66.23" lengthAdjust="spacingAndGlyphs">E(Y(1))</text>
<text x="1258.60" y="786.60" font-size="20.5" text-anchor="start" textLength="66.23" lengthAdjust="spacingAndGlyphs">E(Y(0))</text>
<rect x="1401" y="724" width="601" height="528" fill="#eeeeee"/>
<line x1="1499.80" y1="724" x2="1499.80" y2="1252" stroke="#fff" stroke-width="1.1"/>
<line x1="1629.37" y1="724" x2="1629.37" y2="1252" stroke="#fff" stroke-width="1.1"/>
<line x1="1758.94" y1="724" x2="1758.94" y2="1252" stroke="#fff" stroke-width="1.1"/>
<line x1="1888.51" y1="724" x2="1888.51" y2="1252" stroke="#fff" stroke-width="1.1"/>
<line x1="1401" y1="1251.80" x2="2002" y2="1251.80" stroke="#fff" stroke-width="1.1"/>
<line x1="1401" y1="1160.40" x2="2002" y2="1160.40" stroke="#fff" stroke-width="1.1"/>
<line x1="1401" y1="1069.00" x2="2002" y2="1069.00" stroke="#fff" stroke-width="1.1"/>
<line x1="1401" y1="977.60" x2="2002" y2="977.60" stroke="#fff" stroke-width="1.1"/>
<line x1="1401" y1="886.20" x2="2002" y2="886.20" stroke="#fff" stroke-width="1.1"/>
<line x1="1401" y1="794.80" x2="2002" y2="794.80" stroke="#fff" stroke-width="1.1"/>
<rect x="1428.10" y="1242.66" width="54.66" height="9.14" fill="#808080" fill-opacity="0.6" stroke="#000" stroke-opacity="0.7" stroke-width="1.2"/>
<rect x="1482.76" y="1224.38" width="54.66" height="27.42" fill="#808080" fill-opacity="0.6" stroke="#000" stroke-opacity="0.7" stroke-width="1.2"/>
<rect x="1537.42" y="1155.83" width="54.66" height="95.97" fill="#808080" fill-opacity="0.6" stroke="#000" stroke-opacity="0.7" stroke-width="1.2"/>
<rect x="1592.08" y="1055.29" width="54.66" height="196.51" fill="#808080" fill-opacity="0.6" stroke="#000" stroke-opacity="0.7" stroke-width="1.2"/>
<rect x="1646.74" y="845.07" width="54.66" height="406.73" fill="#808080" fill-opacity="0.6" stroke="#000" stroke-opacity="0.7" stroke-width="1.2"/>
<rect x="1701.40" y="749.10" width="54.66" height="502.70" fill="#808080" fill-opacity="0.6" stroke="#000" stroke-opacity="0.7" stroke-width="1.2"/>
<rect x="1756.06" y="758.24" width="54.66" height="493.56" fill="#808080" fill-opacity="0.6" stroke="#000" stroke-opacity="0.7" stroke-width="1.2"/>
<rect x="1810.72" y="904.48" width="54.66" height="347.32" fill="#808080" fill-opacity="0.6" stroke="#000" stroke-opacity="0.7" stroke-width="1.2"/>
<rect x="1865.38" y="1114.70" width="54.66" height="137.10" fill="#808080" fill-opacity="0.6" stroke="#000" stroke-opacity="0.7" stroke-width="1.2"/>
<rect x="1920.04" y="1183.25" width="54.66" height="68.55" fill="#808080" fill-opacity="0.6" stroke="#000" stroke-opacity="0.7" stroke-width="1.2"/>
<line x1="1743.9" y1="724" x2="1743.9" y2="1252" stroke="#1a1af0" stroke-width="2.1"/>
<rect x="1866.1" y="743.1" width="39.3" height="14.4" fill="#808080" fill-opacity="0.6" stroke="#000" stroke-opacity="0.7" stroke-width="1.2"/>
<line x1="1866.1" y1="779" x2="1905.4" y2="779" stroke="#1a1af0" stroke-width="2.1"/>
<text x="1499.00" y="1271.90" font-size="19.5" text-anchor="middle" textLength="29.98" lengthAdjust="spacingAndGlyphs">3.1</text>
<text x="1628.57" y="1271.90" font-size="19.5" text-anchor="middle" textLength="29.98" lengthAdjust="spacingAndGlyphs">3.2</text>
<text x="1758.14" y="1271.90" font-size="19.5" text-anchor="middle" textLength="29.98" lengthAdjust="spacingAndGlyphs">3.3</text>
<text x="1887.71" y="1271.90" font-size="19.5" text-anchor="middle" textLength="29.98" lengthAdjust="spacingAndGlyphs">3.4</text>
<text x="1395.10" y="1258.70" font-size="19.5" text-anchor="end" textLength="12.23" lengthAdjust="spacingAndGlyphs">0</text>
<text x="1395.10" y="1167.30" font-size="19.5" text-anchor="end" textLength="24.45" lengthAdjust="spacingAndGlyphs">20</text>
<text x="1395.10" y="1075.90" font-size="19.5" text-anchor="end" textLength="24.45" lengthAdjust="spacingAndGlyphs">40</text>
<text x="1395.10" y="984.50" font-size="19.5" text-anchor="end" textLength="24.45" lengthAdjust="spacingAndGlyphs">60</text>
<text x="1395.10" y="893.10" font-size="19.5" text-anchor="end" textLength="24.45" lengthAdjust="spacingAndGlyphs">80</text>
<text x="1395.10" y="801.70" font-size="19.5" text-anchor="end" textLength="36.68" lengthAdjust="spacingAndGlyphs">100</text>
<text x="1523.60" y="716.80" font-size="29.4" text-anchor="start" textLength="354.03" lengthAdjust="spacingAndGlyphs">Average Treatment Effect</text>
<text x="1646.20" y="1297.70" font-size="22.0" text-anchor="start" textLength="109.16" lengthAdjust="spacingAndGlyphs">Difference</text>
<text x="1921.00" y="758.10" font-size="20.5" text-anchor="start" textLength="35.63" lengthAdjust="spacingAndGlyphs">ATE</text>
<text x="1921.40" y="786.80" font-size="20.5" text-anchor="start" textLength="63.92" lengthAdjust="spacingAndGlyphs">E(ATE)</text>
</svg>
</body></html>
